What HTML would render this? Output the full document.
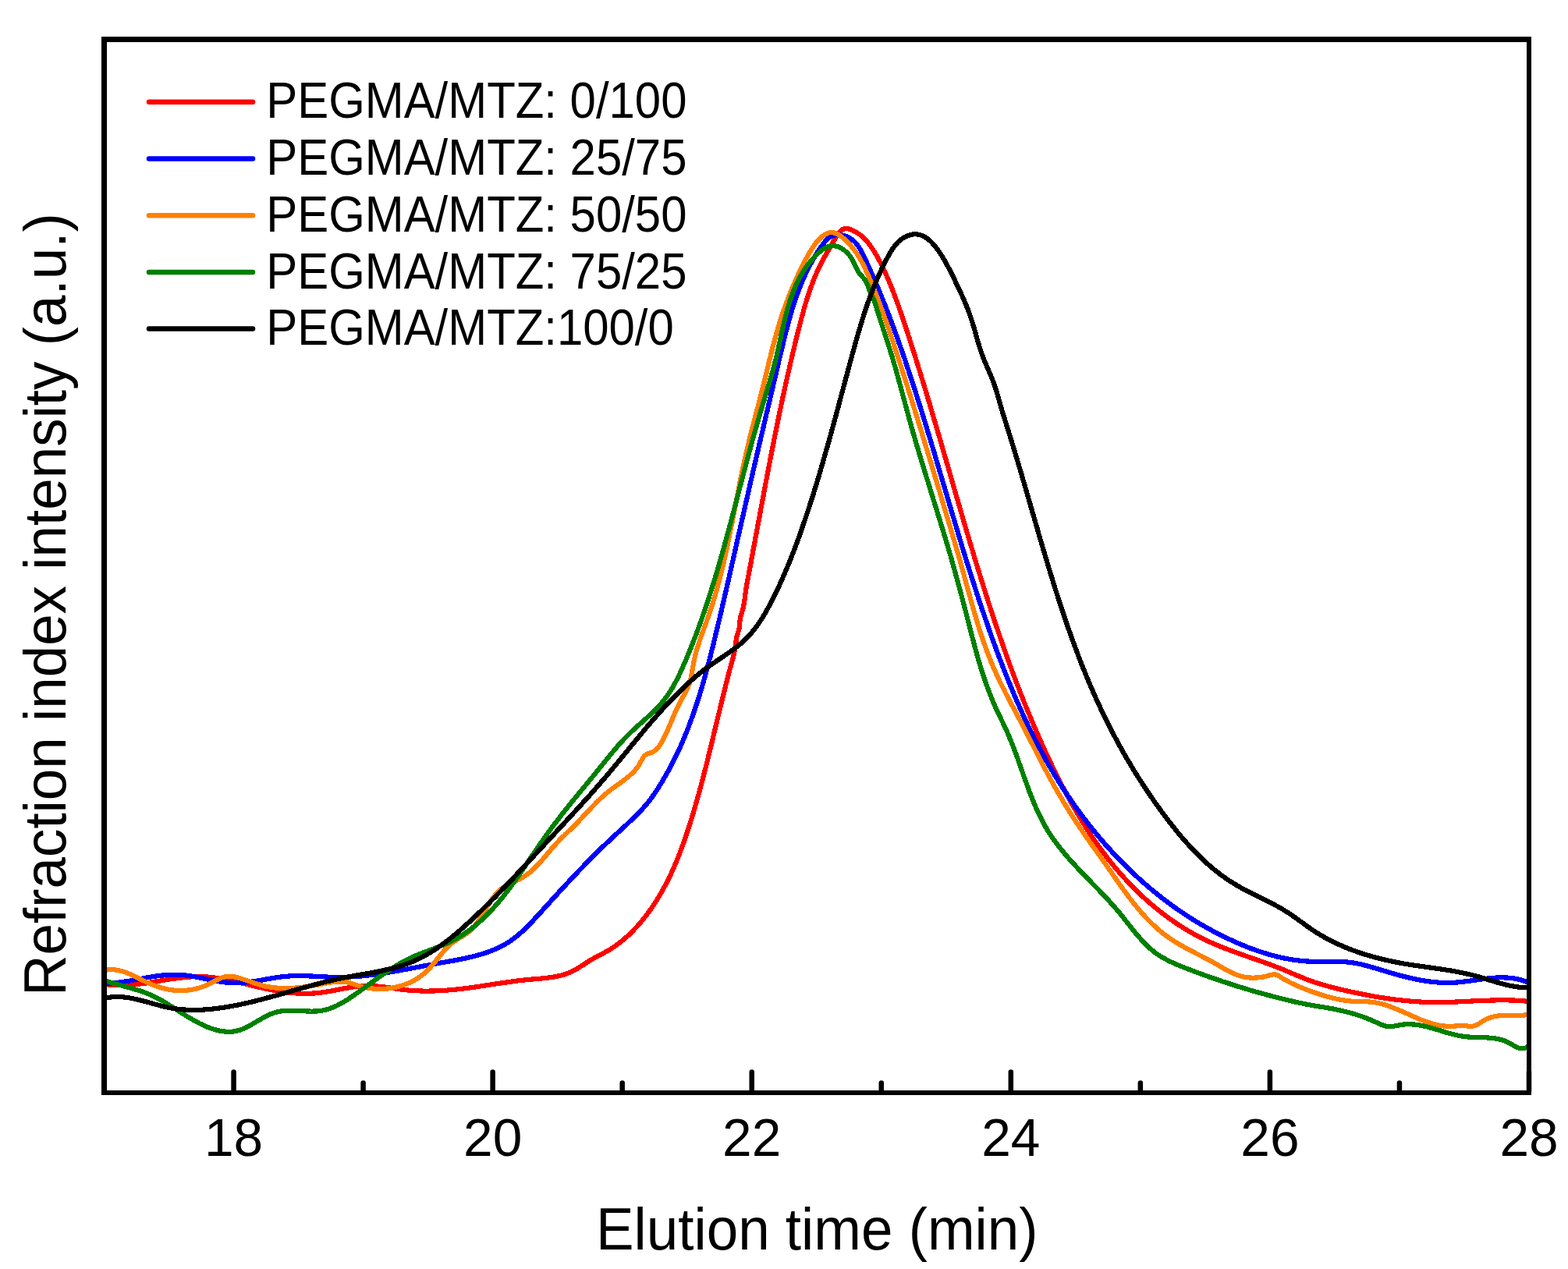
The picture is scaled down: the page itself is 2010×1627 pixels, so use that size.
<!DOCTYPE html>
<html><head><meta charset="utf-8"><title>GPC traces</title>
<style>
html,body{margin:0;padding:0;background:#fff;}
body{width:2010px;height:1627px;overflow:hidden;}
svg{display:block;}
text{font-family:"Liberation Sans", Arial, sans-serif;fill:#000;}
</style></head>
<body>
<svg width="2010" height="1627" viewBox="0 0 2010 1627">
<rect x="0" y="0" width="2010" height="1627" fill="#fff"/>
<g fill="none" stroke-width="6.2" stroke-linejoin="round" stroke-linecap="round" shape-rendering="crispEdges">
<path d="M134.0,1261.8 L138.0,1262.4 L142.0,1262.8 L145.9,1263.1 L149.9,1263.2 L153.9,1263.3 L157.8,1263.2 L161.8,1263.1 L165.8,1262.9 L169.8,1262.5 L173.7,1262.2 L177.7,1261.7 L181.7,1261.2 L185.7,1260.7 L189.7,1260.1 L193.7,1259.4 L197.7,1258.8 L201.6,1258.1 L205.6,1257.5 L209.6,1256.8 L213.6,1256.2 L217.6,1255.5 L221.6,1254.9 L225.5,1254.4 L229.5,1253.9 L233.5,1253.4 L237.5,1253.0 L241.4,1252.6 L245.4,1252.4 L249.4,1252.2 L253.3,1252.1 L257.3,1252.1 L261.2,1252.2 L265.2,1252.5 L269.1,1252.8 L273.1,1253.2 L277.0,1253.8 L281.0,1254.3 L284.9,1255.0 L288.8,1255.7 L292.8,1256.5 L296.7,1257.4 L300.6,1258.2 L304.6,1259.1 L308.5,1260.1 L312.4,1261.0 L316.3,1262.0 L320.2,1262.9 L324.2,1263.9 L328.1,1264.8 L332.0,1265.7 L335.9,1266.6 L339.8,1267.5 L343.8,1268.3 L347.7,1269.1 L351.6,1269.8 L355.5,1270.5 L359.4,1271.1 L363.4,1271.7 L367.3,1272.3 L371.2,1272.7 L375.2,1273.1 L379.1,1273.4 L383.0,1273.6 L387.0,1273.8 L390.9,1273.9 L394.9,1273.8 L398.8,1273.7 L402.8,1273.5 L406.8,1273.2 L410.7,1272.7 L414.7,1272.2 L418.7,1271.6 L422.7,1270.9 L426.6,1270.2 L430.6,1269.4 L434.6,1268.6 L438.6,1267.8 L442.6,1267.1 L446.6,1266.4 L450.6,1265.7 L454.6,1265.1 L458.5,1264.6 L462.5,1264.3 L466.5,1264.0 L470.4,1263.9 L474.4,1264.0 L478.4,1264.1 L482.3,1264.4 L486.3,1264.8 L490.2,1265.2 L494.2,1265.7 L498.1,1266.3 L502.1,1266.8 L506.1,1267.4 L510.0,1268.0 L514.0,1268.5 L518.0,1269.0 L522.0,1269.4 L526.0,1269.8 L530.0,1270.1 L534.0,1270.3 L538.0,1270.4 L542.0,1270.6 L546.1,1270.6 L550.1,1270.6 L554.1,1270.5 L558.2,1270.4 L562.2,1270.3 L566.2,1270.1 L570.2,1269.8 L574.2,1269.5 L578.2,1269.2 L582.2,1268.8 L586.1,1268.4 L590.1,1268.0 L594.0,1267.5 L598.0,1267.0 L601.9,1266.5 L605.8,1265.9 L609.7,1265.4 L613.7,1264.8 L617.6,1264.2 L621.5,1263.6 L625.4,1263.0 L629.3,1262.4 L633.2,1261.8 L637.2,1261.2 L641.1,1260.6 L645.0,1260.1 L649.0,1259.5 L652.9,1258.9 L656.9,1258.4 L660.9,1257.8 L664.9,1257.3 L668.9,1256.9 L672.9,1256.4 L676.9,1256.0 L681.0,1255.6 L685.0,1255.3 L689.1,1254.9 L693.2,1254.6 L697.2,1254.2 L701.3,1253.7 L705.3,1253.2 L709.3,1252.6 L713.2,1251.9 L717.1,1251.1 L720.9,1250.1 L724.7,1249.0 L728.4,1247.6 L732.0,1246.1 L735.5,1244.4 L739.0,1242.5 L742.3,1240.4 L745.7,1238.3 L749.1,1236.1 L752.4,1233.9 L755.8,1231.7 L759.3,1229.7 L762.8,1227.7 L766.3,1225.8 L769.9,1224.0 L773.5,1222.1 L777.0,1220.2 L780.5,1218.2 L783.9,1216.1 L787.2,1213.9 L790.5,1211.6 L793.7,1209.2 L796.8,1206.7 L799.9,1204.1 L802.9,1201.5 L805.9,1198.8 L808.8,1196.0 L811.6,1193.1 L814.3,1190.2 L817.1,1187.3 L819.7,1184.3 L822.3,1181.2 L824.8,1178.2 L827.3,1175.0 L829.7,1171.9 L832.0,1168.7 L834.4,1165.4 L836.6,1162.2 L838.8,1158.9 L841.0,1155.5 L843.1,1152.2 L845.1,1148.8 L847.1,1145.3 L849.1,1141.9 L851.0,1138.4 L852.9,1134.9 L854.7,1131.3 L856.5,1127.8 L858.3,1124.2 L860.0,1120.6 L861.7,1116.9 L863.3,1113.3 L864.9,1109.6 L866.5,1105.9 L868.0,1102.2 L869.5,1098.5 L871.0,1094.8 L872.4,1091.0 L873.8,1087.2 L875.2,1083.5 L876.6,1079.7 L877.9,1075.9 L879.2,1072.1 L880.5,1068.2 L881.8,1064.4 L883.0,1060.6 L884.2,1056.8 L885.4,1052.9 L886.6,1049.1 L887.8,1045.3 L889.0,1041.4 L890.1,1037.6 L891.2,1033.7 L892.3,1029.9 L893.4,1026.0 L894.5,1022.2 L895.6,1018.3 L896.6,1014.5 L897.7,1010.6 L898.7,1006.8 L899.7,1002.9 L900.7,999.1 L901.7,995.2 L902.7,991.3 L903.7,987.5 L904.7,983.6 L905.7,979.8 L906.6,975.9 L907.6,972.0 L908.5,968.2 L909.5,964.3 L910.4,960.4 L911.4,956.5 L912.3,952.7 L913.3,948.8 L914.2,944.9 L915.1,941.0 L916.0,937.2 L917.0,933.3 L917.9,929.4 L918.8,925.5 L919.8,921.6 L920.7,917.8 L921.6,913.9 L922.6,910.0 L923.5,906.1 L924.5,902.2 L925.4,898.3 L926.4,894.5 L927.3,890.6 L928.3,886.7 L929.3,882.8 L930.2,878.9 L931.2,875.0 L932.2,871.1 L933.2,867.2 L934.2,863.3 L935.3,859.4 L936.3,855.5 L937.4,851.6 L938.4,847.7 L939.5,843.8 L940.5,839.9 L941.4,836.0 L942.3,832.1 L942.9,828.2 L943.4,824.3 L943.7,820.3 L944.4,816.4 L945.6,812.6 L946.8,808.7 L947.8,804.8 L948.3,800.8 L948.4,796.7 L948.9,792.8 L949.8,789.0 L951.0,785.2 L952.1,781.4 L953.1,777.5 L953.8,773.6 L954.4,769.7 L954.9,765.7 L955.4,761.7 L955.9,757.7 L956.5,753.8 L957.2,749.8 L957.9,745.9 L958.7,741.9 L959.4,738.0 L960.2,734.1 L960.9,730.1 L961.6,726.2 L962.4,722.3 L963.1,718.3 L963.8,714.4 L964.6,710.5 L965.3,706.5 L966.0,702.6 L966.8,698.7 L967.5,694.7 L968.2,690.8 L969.0,686.9 L969.7,682.9 L970.4,679.0 L971.2,675.1 L971.9,671.1 L972.6,667.2 L973.4,663.3 L974.1,659.3 L974.8,655.4 L975.5,651.5 L976.3,647.6 L977.0,643.6 L977.7,639.7 L978.5,635.8 L979.2,631.8 L979.9,627.9 L980.7,624.0 L981.4,620.0 L982.2,616.1 L982.9,612.2 L983.7,608.2 L984.4,604.3 L985.2,600.4 L985.9,596.5 L986.7,592.5 L987.4,588.6 L988.2,584.7 L989.0,580.8 L989.7,576.8 L990.5,572.9 L991.3,569.0 L992.0,565.1 L992.8,561.1 L993.6,557.2 L994.4,553.3 L995.2,549.4 L996.0,545.5 L996.8,541.5 L997.6,537.6 L998.4,533.7 L999.2,529.8 L1000.0,525.9 L1000.8,522.0 L1001.6,518.0 L1002.5,514.1 L1003.3,510.2 L1004.2,506.3 L1005.0,502.4 L1005.8,498.5 L1006.7,494.6 L1007.6,490.7 L1008.4,486.8 L1009.3,482.9 L1010.2,479.0 L1011.1,475.1 L1012.0,471.2 L1012.9,467.3 L1013.8,463.4 L1014.7,459.5 L1015.6,455.6 L1016.5,451.7 L1017.5,447.8 L1018.4,443.9 L1019.3,440.0 L1020.3,436.1 L1021.3,432.2 L1022.2,428.3 L1023.2,424.4 L1024.2,420.5 L1025.2,416.7 L1026.2,412.8 L1027.2,408.9 L1028.2,405.0 L1029.3,401.2 L1030.3,397.3 L1031.4,393.5 L1032.5,389.6 L1033.7,385.8 L1034.9,382.0 L1036.1,378.2 L1037.3,374.4 L1038.6,370.6 L1040.0,366.9 L1041.3,363.2 L1042.8,359.5 L1044.2,355.8 L1045.8,352.1 L1047.4,348.5 L1049.0,344.9 L1050.7,341.3 L1052.5,337.8 L1054.3,334.3 L1056.2,330.8 L1058.2,327.3 L1060.2,323.8 L1062.2,320.3 L1064.3,316.8 L1066.4,313.2 L1068.4,309.5 L1070.5,305.8 L1072.7,302.1 L1074.9,298.8 L1077.5,296.0 L1080.3,294.0 L1083.6,293.1 L1087.4,293.4 L1091.4,294.6 L1095.3,296.4 L1098.9,298.5 L1102.3,300.8 L1105.4,303.4 L1108.3,306.1 L1111.0,309.0 L1113.5,312.1 L1115.9,315.3 L1118.1,318.6 L1120.3,322.0 L1122.3,325.4 L1124.3,328.8 L1126.3,332.3 L1128.2,335.9 L1130.0,339.4 L1131.7,343.0 L1133.4,346.6 L1135.1,350.3 L1136.7,353.9 L1138.3,357.6 L1139.9,361.3 L1141.4,365.0 L1142.9,368.7 L1144.3,372.4 L1145.8,376.1 L1147.2,379.9 L1148.6,383.6 L1150.0,387.4 L1151.3,391.1 L1152.6,394.9 L1154.0,398.7 L1155.3,402.5 L1156.6,406.3 L1157.8,410.1 L1159.1,413.9 L1160.4,417.7 L1161.6,421.5 L1162.9,425.3 L1164.1,429.1 L1165.4,432.9 L1166.6,436.7 L1167.8,440.5 L1169.0,444.3 L1170.2,448.1 L1171.5,451.9 L1172.7,455.7 L1173.9,459.6 L1175.1,463.4 L1176.2,467.2 L1177.4,471.0 L1178.6,474.8 L1179.8,478.6 L1181.0,482.5 L1182.1,486.3 L1183.3,490.1 L1184.5,493.9 L1185.6,497.8 L1186.8,501.6 L1187.9,505.4 L1189.1,509.3 L1190.2,513.1 L1191.4,516.9 L1192.5,520.8 L1193.6,524.6 L1194.8,528.4 L1195.9,532.3 L1197.0,536.1 L1198.2,539.9 L1199.3,543.8 L1200.4,547.6 L1201.5,551.5 L1202.6,555.3 L1203.8,559.1 L1204.9,563.0 L1206.0,566.8 L1207.1,570.7 L1208.2,574.5 L1209.3,578.3 L1210.4,582.2 L1211.5,586.0 L1212.7,589.9 L1213.8,593.7 L1214.9,597.5 L1216.0,601.4 L1217.1,605.2 L1218.2,609.1 L1219.3,612.9 L1220.4,616.8 L1221.5,620.6 L1222.6,624.4 L1223.7,628.3 L1224.9,632.1 L1226.0,636.0 L1227.1,639.8 L1228.2,643.7 L1229.3,647.5 L1230.4,651.3 L1231.5,655.2 L1232.7,659.0 L1233.8,662.9 L1234.9,666.7 L1236.0,670.5 L1237.2,674.4 L1238.3,678.2 L1239.4,682.0 L1240.6,685.9 L1241.7,689.7 L1242.8,693.5 L1244.0,697.4 L1245.1,701.2 L1246.3,705.0 L1247.4,708.9 L1248.6,712.7 L1249.7,716.5 L1250.9,720.4 L1252.1,724.2 L1253.2,728.0 L1254.4,731.8 L1255.6,735.7 L1256.8,739.5 L1258.0,743.3 L1259.2,747.1 L1260.4,751.0 L1261.6,754.8 L1262.8,758.6 L1264.0,762.4 L1265.2,766.2 L1266.4,770.0 L1267.6,773.8 L1268.9,777.7 L1270.1,781.5 L1271.4,785.3 L1272.6,789.1 L1273.9,792.9 L1275.1,796.7 L1276.4,800.5 L1277.7,804.3 L1279.0,808.1 L1280.3,811.9 L1281.5,815.6 L1282.9,819.4 L1284.2,823.2 L1285.5,827.0 L1286.8,830.8 L1288.1,834.5 L1289.5,838.3 L1290.8,842.1 L1292.2,845.9 L1293.5,849.6 L1294.9,853.4 L1296.3,857.1 L1297.7,860.9 L1299.1,864.6 L1300.5,868.4 L1301.9,872.1 L1303.3,875.9 L1304.7,879.6 L1306.2,883.3 L1307.6,887.1 L1309.1,890.8 L1310.6,894.5 L1312.0,898.2 L1313.5,901.9 L1315.0,905.6 L1316.5,909.3 L1318.0,913.0 L1319.6,916.7 L1321.1,920.4 L1322.7,924.1 L1324.2,927.8 L1325.8,931.4 L1327.4,935.1 L1329.0,938.8 L1330.6,942.4 L1332.2,946.1 L1333.8,949.7 L1335.4,953.4 L1337.1,957.0 L1338.7,960.7 L1340.4,964.3 L1342.1,967.9 L1343.8,971.5 L1345.5,975.1 L1347.2,978.7 L1348.9,982.3 L1350.7,985.9 L1352.4,989.5 L1354.2,993.1 L1356.0,996.7 L1357.8,1000.2 L1359.6,1003.8 L1361.4,1007.3 L1363.3,1010.9 L1365.1,1014.4 L1367.0,1017.9 L1368.9,1021.4 L1370.8,1024.9 L1372.8,1028.4 L1374.7,1031.9 L1376.7,1035.4 L1378.7,1038.8 L1380.7,1042.2 L1382.7,1045.7 L1384.8,1049.1 L1386.9,1052.5 L1389.0,1055.9 L1391.1,1059.3 L1393.2,1062.6 L1395.4,1066.0 L1397.6,1069.3 L1399.8,1072.6 L1402.0,1075.9 L1404.3,1079.2 L1406.6,1082.5 L1408.9,1085.7 L1411.3,1088.9 L1413.7,1092.2 L1416.1,1095.4 L1418.5,1098.5 L1421.0,1101.7 L1423.4,1104.8 L1426.0,1108.0 L1428.5,1111.1 L1431.1,1114.1 L1433.7,1117.2 L1436.4,1120.2 L1439.0,1123.2 L1441.7,1126.2 L1444.5,1129.2 L1447.2,1132.1 L1450.0,1135.0 L1452.8,1137.9 L1455.7,1140.7 L1458.6,1143.6 L1461.5,1146.4 L1464.4,1149.1 L1467.4,1151.9 L1470.4,1154.6 L1473.4,1157.2 L1476.4,1159.8 L1479.5,1162.4 L1482.6,1165.0 L1485.7,1167.5 L1488.9,1170.0 L1492.1,1172.5 L1495.3,1174.9 L1498.5,1177.2 L1501.8,1179.6 L1505.0,1181.8 L1508.3,1184.1 L1511.7,1186.3 L1515.0,1188.4 L1518.4,1190.6 L1521.8,1192.6 L1525.3,1194.6 L1528.7,1196.6 L1532.2,1198.5 L1535.7,1200.4 L1539.3,1202.2 L1542.8,1204.0 L1546.4,1205.7 L1550.0,1207.4 L1553.7,1209.0 L1557.3,1210.6 L1561.0,1212.2 L1564.7,1213.7 L1568.4,1215.2 L1572.1,1216.6 L1575.8,1218.0 L1579.5,1219.4 L1583.3,1220.8 L1587.1,1222.1 L1590.8,1223.5 L1594.6,1224.8 L1598.4,1226.1 L1602.2,1227.5 L1605.9,1228.8 L1609.7,1230.1 L1613.5,1231.4 L1617.3,1232.8 L1621.1,1234.1 L1624.8,1235.5 L1628.6,1236.8 L1632.3,1238.2 L1636.1,1239.7 L1639.8,1241.1 L1643.6,1242.6 L1647.3,1244.1 L1651.0,1245.7 L1654.6,1247.2 L1658.3,1248.8 L1662.0,1250.4 L1665.7,1251.9 L1669.4,1253.4 L1673.1,1254.9 L1676.8,1256.4 L1680.6,1257.7 L1684.3,1259.1 L1688.1,1260.3 L1691.9,1261.5 L1695.8,1262.6 L1699.6,1263.7 L1703.4,1264.8 L1707.3,1265.8 L1711.2,1266.8 L1715.1,1267.7 L1719.0,1268.7 L1722.9,1269.6 L1726.8,1270.5 L1730.7,1271.3 L1734.6,1272.2 L1738.5,1273.0 L1742.4,1273.8 L1746.4,1274.6 L1750.3,1275.4 L1754.2,1276.1 L1758.2,1276.9 L1762.1,1277.6 L1766.1,1278.3 L1770.0,1278.9 L1774.0,1279.5 L1777.9,1280.1 L1781.9,1280.7 L1785.9,1281.2 L1789.8,1281.7 L1793.8,1282.2 L1797.8,1282.6 L1801.7,1283.1 L1805.7,1283.4 L1809.7,1283.8 L1813.7,1284.1 L1817.7,1284.3 L1821.6,1284.6 L1825.6,1284.7 L1829.6,1284.9 L1833.6,1285.0 L1837.6,1285.1 L1841.6,1285.1 L1845.6,1285.1 L1849.6,1285.0 L1853.6,1284.9 L1857.6,1284.8 L1861.5,1284.7 L1865.5,1284.6 L1869.5,1284.4 L1873.5,1284.2 L1877.5,1284.0 L1881.5,1283.8 L1885.5,1283.6 L1889.5,1283.4 L1893.6,1283.2 L1897.6,1283.0 L1901.6,1282.9 L1905.6,1282.7 L1909.6,1282.6 L1913.6,1282.5 L1917.6,1282.4 L1921.7,1282.3 L1925.7,1282.3 L1929.7,1282.3 L1933.7,1282.4 L1937.8,1282.5 L1941.8,1282.6 L1945.8,1282.8 L1949.9,1283.1 L1953.9,1283.4 L1958.0,1283.8 L1958.4,1283.8" stroke="#ff0000" />
<path d="M134.0,1260.9 L138.0,1260.8 L141.9,1260.6 L145.9,1260.3 L149.9,1259.9 L153.9,1259.4 L157.8,1258.8 L161.8,1258.2 L165.8,1257.6 L169.7,1256.9 L173.7,1256.1 L177.7,1255.4 L181.6,1254.7 L185.6,1253.9 L189.6,1253.2 L193.5,1252.5 L197.5,1251.9 L201.5,1251.3 L205.4,1250.8 L209.4,1250.4 L213.3,1250.0 L217.3,1249.8 L221.3,1249.6 L225.2,1249.6 L229.2,1249.7 L233.1,1250.0 L237.1,1250.4 L241.1,1250.9 L245.0,1251.5 L249.0,1252.2 L252.9,1252.9 L256.9,1253.7 L260.8,1254.5 L264.8,1255.3 L268.7,1256.1 L272.7,1256.9 L276.6,1257.6 L280.6,1258.3 L284.5,1258.9 L288.4,1259.4 L292.4,1259.8 L296.3,1260.1 L300.3,1260.3 L304.2,1260.2 L308.2,1260.1 L312.1,1259.8 L316.0,1259.4 L320.0,1259.0 L323.9,1258.4 L327.9,1257.8 L331.8,1257.1 L335.8,1256.5 L339.7,1255.8 L343.7,1255.1 L347.6,1254.4 L351.6,1253.7 L355.6,1253.1 L359.6,1252.5 L363.5,1252.1 L367.5,1251.7 L371.5,1251.4 L375.5,1251.2 L379.6,1251.1 L383.6,1251.1 L387.6,1251.1 L391.6,1251.2 L395.6,1251.4 L399.7,1251.5 L403.7,1251.8 L407.7,1252.0 L411.8,1252.2 L415.8,1252.4 L419.8,1252.6 L423.8,1252.7 L427.8,1252.8 L431.8,1252.9 L435.8,1252.9 L439.8,1252.8 L443.8,1252.7 L447.8,1252.5 L451.7,1252.3 L455.7,1252.0 L459.6,1251.7 L463.6,1251.4 L467.6,1251.0 L471.5,1250.5 L475.5,1250.1 L479.4,1249.6 L483.3,1249.0 L487.3,1248.5 L491.2,1247.9 L495.2,1247.2 L499.1,1246.6 L503.0,1245.9 L507.0,1245.2 L510.9,1244.5 L514.9,1243.8 L518.8,1243.1 L522.8,1242.4 L526.7,1241.6 L530.7,1240.9 L534.6,1240.1 L538.6,1239.4 L542.5,1238.6 L546.5,1237.9 L550.5,1237.1 L554.5,1236.4 L558.4,1235.6 L562.4,1234.9 L566.4,1234.2 L570.4,1233.5 L574.4,1232.8 L578.4,1232.1 L582.4,1231.4 L586.4,1230.6 L590.3,1229.8 L594.3,1229.0 L598.2,1228.2 L602.1,1227.3 L606.0,1226.4 L609.8,1225.4 L613.6,1224.4 L617.4,1223.3 L621.2,1222.1 L624.9,1220.8 L628.6,1219.5 L632.2,1218.1 L635.8,1216.5 L639.3,1214.9 L642.8,1213.2 L646.2,1211.4 L649.5,1209.4 L652.8,1207.4 L656.1,1205.2 L659.2,1202.8 L662.3,1200.4 L665.4,1197.8 L668.4,1195.2 L671.3,1192.5 L674.2,1189.7 L677.1,1186.8 L680.0,1183.9 L682.8,1180.9 L685.5,1177.9 L688.3,1174.9 L691.1,1171.9 L693.8,1168.9 L696.5,1165.9 L699.3,1162.9 L702.0,1159.9 L704.7,1156.9 L707.4,1153.9 L710.2,1150.9 L712.9,1147.9 L715.6,1144.9 L718.3,1142.0 L721.0,1139.0 L723.7,1136.1 L726.4,1133.2 L729.2,1130.2 L731.9,1127.3 L734.6,1124.4 L737.4,1121.5 L740.1,1118.6 L742.8,1115.7 L745.6,1112.9 L748.4,1110.0 L751.1,1107.2 L753.9,1104.3 L756.7,1101.5 L759.5,1098.7 L762.3,1095.8 L765.1,1093.0 L768.0,1090.3 L770.8,1087.5 L773.7,1084.7 L776.6,1081.9 L779.5,1079.2 L782.4,1076.4 L785.3,1073.7 L788.3,1071.0 L791.2,1068.3 L794.2,1065.6 L797.2,1062.8 L800.1,1060.1 L803.1,1057.4 L806.0,1054.6 L808.9,1051.8 L811.8,1049.1 L814.6,1046.3 L817.4,1043.4 L820.2,1040.6 L823.0,1037.7 L825.7,1034.7 L828.3,1031.7 L830.9,1028.6 L833.3,1025.4 L835.7,1022.1 L838.0,1018.9 L840.3,1015.5 L842.5,1012.2 L844.6,1008.8 L846.8,1005.4 L848.9,1002.0 L850.9,998.5 L852.9,995.1 L854.9,991.6 L856.8,988.1 L858.7,984.6 L860.6,981.1 L862.4,977.6 L864.2,974.0 L866.0,970.4 L867.7,966.9 L869.4,963.3 L871.1,959.6 L872.7,956.0 L874.3,952.4 L875.9,948.7 L877.4,945.0 L878.9,941.4 L880.4,937.7 L881.9,934.0 L883.3,930.2 L884.7,926.5 L886.1,922.8 L887.4,919.0 L888.8,915.3 L890.1,911.5 L891.3,907.7 L892.6,903.9 L893.8,900.1 L895.1,896.3 L896.3,892.5 L897.4,888.7 L898.6,884.8 L899.8,881.0 L900.9,877.2 L902.0,873.3 L903.1,869.5 L904.2,865.6 L905.2,861.7 L906.3,857.9 L907.3,854.0 L908.3,850.1 L909.4,846.2 L910.4,842.3 L911.3,838.4 L912.3,834.5 L913.3,830.6 L914.3,826.7 L915.2,822.8 L916.2,818.9 L917.1,815.0 L918.0,811.1 L919.0,807.2 L919.9,803.3 L920.8,799.4 L921.8,795.5 L922.7,791.6 L923.6,787.7 L924.5,783.8 L925.4,779.9 L926.3,776.0 L927.2,772.1 L928.1,768.2 L929.0,764.3 L929.9,760.4 L930.8,756.5 L931.7,752.6 L932.6,748.7 L933.5,744.8 L934.4,740.9 L935.3,737.0 L936.2,733.1 L937.0,729.2 L937.9,725.3 L938.8,721.4 L939.7,717.5 L940.6,713.6 L941.5,709.7 L942.3,705.8 L943.2,701.9 L944.1,698.0 L945.0,694.1 L945.8,690.2 L946.7,686.3 L947.6,682.5 L948.5,678.6 L949.4,674.7 L950.2,670.8 L951.1,666.9 L952.0,663.0 L952.9,659.1 L953.8,655.2 L954.6,651.3 L955.5,647.4 L956.4,643.5 L957.3,639.7 L958.2,635.8 L959.1,631.9 L960.0,628.0 L960.8,624.1 L961.7,620.2 L962.6,616.3 L963.5,612.4 L964.4,608.5 L965.3,604.6 L966.2,600.8 L967.1,596.9 L968.0,593.0 L968.9,589.1 L969.8,585.2 L970.7,581.3 L971.6,577.4 L972.5,573.5 L973.4,569.6 L974.3,565.7 L975.2,561.8 L976.2,557.9 L977.1,554.1 L978.0,550.2 L978.9,546.3 L979.8,542.4 L980.7,538.5 L981.6,534.6 L982.5,530.7 L983.5,526.8 L984.4,522.9 L985.3,519.0 L986.2,515.1 L987.1,511.2 L988.0,507.3 L989.0,503.4 L989.9,499.5 L990.8,495.6 L991.7,491.7 L992.6,487.8 L993.5,483.9 L994.5,480.0 L995.4,476.1 L996.3,472.1 L997.2,468.2 L998.1,464.3 L999.1,460.4 L1000.0,456.5 L1000.9,452.6 L1001.8,448.7 L1002.8,444.8 L1003.7,440.9 L1004.7,437.0 L1005.6,433.1 L1006.6,429.2 L1007.6,425.3 L1008.6,421.4 L1009.6,417.5 L1010.6,413.6 L1011.7,409.8 L1012.8,405.9 L1013.9,402.1 L1015.0,398.3 L1016.2,394.4 L1017.4,390.6 L1018.6,386.9 L1019.9,383.1 L1021.2,379.3 L1022.6,375.6 L1024.0,371.9 L1025.4,368.2 L1026.9,364.5 L1028.4,360.8 L1030.0,357.2 L1031.6,353.5 L1033.3,349.9 L1035.0,346.4 L1036.8,342.8 L1038.6,339.3 L1040.5,335.8 L1042.5,332.3 L1044.5,328.9 L1046.6,325.4 L1048.8,322.1 L1051.0,318.7 L1053.3,315.4 L1055.7,312.1 L1058.2,309.0 L1060.9,306.2 L1064.0,303.9 L1067.4,302.2 L1071.1,301.2 L1075.3,301.0 L1079.7,301.6 L1084.1,302.8 L1088.0,304.4 L1091.5,306.6 L1094.6,309.0 L1097.3,311.9 L1099.7,314.9 L1101.9,318.2 L1103.8,321.7 L1105.7,325.3 L1107.4,328.9 L1109.1,332.5 L1110.9,336.2 L1112.6,339.8 L1114.2,343.5 L1115.9,347.2 L1117.5,350.8 L1119.1,354.5 L1120.8,358.2 L1122.3,361.9 L1123.9,365.6 L1125.5,369.3 L1127.0,373.0 L1128.6,376.7 L1130.1,380.4 L1131.6,384.1 L1133.1,387.8 L1134.6,391.5 L1136.0,395.3 L1137.5,399.0 L1138.9,402.7 L1140.4,406.5 L1141.8,410.2 L1143.2,413.9 L1144.6,417.7 L1146.0,421.4 L1147.3,425.2 L1148.7,429.0 L1150.0,432.7 L1151.4,436.5 L1152.7,440.3 L1154.0,444.0 L1155.4,447.8 L1156.7,451.6 L1158.0,455.4 L1159.3,459.1 L1160.6,462.9 L1161.8,466.7 L1163.1,470.5 L1164.4,474.3 L1165.6,478.1 L1166.9,481.9 L1168.1,485.7 L1169.4,489.5 L1170.6,493.3 L1171.8,497.1 L1173.1,500.9 L1174.3,504.7 L1175.5,508.5 L1176.7,512.3 L1177.9,516.1 L1179.1,519.9 L1180.3,523.8 L1181.5,527.6 L1182.7,531.4 L1183.8,535.2 L1185.0,539.0 L1186.2,542.9 L1187.4,546.7 L1188.5,550.5 L1189.7,554.3 L1190.8,558.2 L1192.0,562.0 L1193.2,565.8 L1194.3,569.7 L1195.5,573.5 L1196.6,577.3 L1197.8,581.2 L1198.9,585.0 L1200.0,588.8 L1201.2,592.7 L1202.3,596.5 L1203.5,600.3 L1204.6,604.2 L1205.7,608.0 L1206.9,611.8 L1208.0,615.7 L1209.1,619.5 L1210.3,623.4 L1211.4,627.2 L1212.5,631.0 L1213.7,634.9 L1214.8,638.7 L1215.9,642.5 L1217.1,646.4 L1218.2,650.2 L1219.3,654.1 L1220.5,657.9 L1221.6,661.7 L1222.8,665.6 L1223.9,669.4 L1225.1,673.2 L1226.2,677.1 L1227.4,680.9 L1228.5,684.7 L1229.7,688.6 L1230.8,692.4 L1232.0,696.2 L1233.1,700.0 L1234.3,703.9 L1235.5,707.7 L1236.7,711.5 L1237.8,715.3 L1239.0,719.2 L1240.2,723.0 L1241.4,726.8 L1242.6,730.6 L1243.8,734.4 L1245.0,738.3 L1246.2,742.1 L1247.4,745.9 L1248.7,749.7 L1249.9,753.5 L1251.1,757.3 L1252.3,761.1 L1253.6,764.9 L1254.8,768.7 L1256.1,772.5 L1257.4,776.3 L1258.6,780.1 L1259.9,783.9 L1261.2,787.7 L1262.5,791.4 L1263.8,795.2 L1265.1,799.0 L1266.4,802.8 L1267.7,806.5 L1269.1,810.3 L1270.4,814.1 L1271.7,817.9 L1273.1,821.6 L1274.5,825.4 L1275.8,829.1 L1277.2,832.9 L1278.6,836.6 L1280.0,840.4 L1281.4,844.1 L1282.8,847.9 L1284.3,851.6 L1285.7,855.3 L1287.2,859.1 L1288.6,862.8 L1290.1,866.5 L1291.6,870.2 L1293.1,873.9 L1294.6,877.6 L1296.1,881.3 L1297.7,885.0 L1299.2,888.7 L1300.8,892.4 L1302.3,896.0 L1303.9,899.7 L1305.5,903.4 L1307.2,907.0 L1308.8,910.7 L1310.4,914.3 L1312.1,917.9 L1313.8,921.6 L1315.5,925.2 L1317.2,928.8 L1318.9,932.4 L1320.7,936.0 L1322.4,939.6 L1324.2,943.1 L1326.0,946.7 L1327.8,950.3 L1329.7,953.8 L1331.5,957.4 L1333.4,960.9 L1335.3,964.4 L1337.2,967.9 L1339.1,971.4 L1341.1,974.9 L1343.0,978.4 L1345.0,981.9 L1347.0,985.3 L1349.1,988.8 L1351.1,992.2 L1353.2,995.6 L1355.3,999.0 L1357.4,1002.4 L1359.5,1005.8 L1361.7,1009.2 L1363.9,1012.6 L1366.1,1015.9 L1368.3,1019.3 L1370.5,1022.6 L1372.8,1025.9 L1375.1,1029.2 L1377.4,1032.5 L1379.7,1035.7 L1382.1,1039.0 L1384.4,1042.2 L1386.8,1045.5 L1389.2,1048.7 L1391.7,1051.9 L1394.1,1055.0 L1396.6,1058.2 L1399.1,1061.3 L1401.6,1064.5 L1404.1,1067.6 L1406.7,1070.6 L1409.3,1073.7 L1411.9,1076.8 L1414.5,1079.8 L1417.1,1082.8 L1419.8,1085.8 L1422.5,1088.8 L1425.2,1091.8 L1427.9,1094.7 L1430.6,1097.6 L1433.4,1100.5 L1436.2,1103.4 L1439.0,1106.2 L1441.8,1109.1 L1444.6,1111.9 L1447.5,1114.7 L1450.4,1117.4 L1453.3,1120.2 L1456.2,1122.9 L1459.1,1125.6 L1462.1,1128.3 L1465.1,1130.9 L1468.1,1133.6 L1471.1,1136.2 L1474.1,1138.8 L1477.2,1141.3 L1480.3,1143.9 L1483.4,1146.4 L1486.5,1148.8 L1489.6,1151.3 L1492.8,1153.7 L1496.0,1156.1 L1499.2,1158.5 L1502.4,1160.9 L1505.6,1163.2 L1508.9,1165.5 L1512.1,1167.7 L1515.4,1170.0 L1518.7,1172.2 L1522.1,1174.4 L1525.4,1176.5 L1528.8,1178.7 L1532.2,1180.8 L1535.6,1182.8 L1539.0,1184.9 L1542.5,1186.9 L1545.9,1188.9 L1549.4,1190.8 L1552.9,1192.7 L1556.4,1194.6 L1560.0,1196.5 L1563.5,1198.3 L1567.1,1200.1 L1570.7,1201.8 L1574.3,1203.5 L1578.0,1205.2 L1581.6,1206.9 L1585.3,1208.5 L1589.0,1210.1 L1592.7,1211.7 L1596.4,1213.2 L1600.1,1214.7 L1603.9,1216.1 L1607.7,1217.5 L1611.5,1218.8 L1615.3,1220.1 L1619.1,1221.4 L1622.9,1222.5 L1626.8,1223.7 L1630.6,1224.8 L1634.5,1225.8 L1638.4,1226.8 L1642.3,1227.7 L1646.2,1228.5 L1650.2,1229.3 L1654.1,1230.0 L1658.0,1230.6 L1662.0,1231.2 L1666.0,1231.6 L1669.9,1232.0 L1673.9,1232.4 L1677.9,1232.6 L1681.9,1232.8 L1685.9,1232.9 L1689.9,1232.9 L1693.9,1232.9 L1698.0,1232.9 L1702.0,1232.8 L1706.0,1232.8 L1710.0,1232.8 L1714.0,1232.8 L1718.0,1232.9 L1721.9,1233.1 L1725.9,1233.4 L1729.8,1233.8 L1733.7,1234.3 L1737.6,1234.9 L1741.5,1235.7 L1745.4,1236.5 L1749.2,1237.5 L1753.1,1238.5 L1756.9,1239.6 L1760.8,1240.7 L1764.6,1241.8 L1768.5,1243.0 L1772.3,1244.2 L1776.2,1245.3 L1780.0,1246.5 L1783.9,1247.6 L1787.8,1248.7 L1791.7,1249.8 L1795.6,1250.9 L1799.5,1251.9 L1803.4,1252.9 L1807.3,1253.8 L1811.3,1254.7 L1815.2,1255.5 L1819.1,1256.3 L1823.1,1257.0 L1827.0,1257.7 L1831.0,1258.3 L1834.9,1258.8 L1838.9,1259.2 L1842.8,1259.5 L1846.8,1259.8 L1850.7,1259.9 L1854.7,1260.0 L1858.7,1260.0 L1862.6,1259.8 L1866.6,1259.6 L1870.6,1259.2 L1874.6,1258.8 L1878.5,1258.3 L1882.5,1257.8 L1886.5,1257.3 L1890.5,1256.7 L1894.4,1256.1 L1898.4,1255.6 L1902.4,1255.0 L1906.4,1254.6 L1910.4,1254.1 L1914.3,1253.8 L1918.3,1253.5 L1922.3,1253.4 L1926.3,1253.3 L1930.3,1253.5 L1934.2,1253.7 L1938.2,1254.1 L1942.2,1254.7 L1946.2,1255.5 L1950.1,1256.5 L1954.1,1257.8 L1958.1,1259.2 L1958.5,1259.4" stroke="#0000ff" />
<path d="M134.0,1244.1 L138.0,1243.4 L142.0,1243.1 L146.0,1243.3 L149.8,1243.7 L153.7,1244.5 L157.5,1245.5 L161.3,1246.8 L165.1,1248.3 L168.8,1249.9 L172.5,1251.6 L176.2,1253.4 L179.9,1255.3 L183.6,1257.1 L187.3,1258.9 L190.9,1260.6 L194.6,1262.1 L198.3,1263.6 L202.0,1264.9 L205.7,1266.1 L209.5,1267.1 L213.2,1268.0 L217.0,1268.8 L220.8,1269.4 L224.7,1269.8 L228.5,1270.0 L232.5,1270.0 L236.4,1269.9 L240.4,1269.6 L244.5,1269.1 L248.5,1268.3 L252.6,1267.4 L256.6,1266.2 L260.5,1264.9 L264.4,1263.3 L268.1,1261.6 L271.8,1259.7 L275.4,1257.8 L278.9,1256.0 L282.5,1254.3 L286.1,1253.0 L289.7,1252.1 L293.5,1251.7 L297.4,1251.9 L301.4,1252.6 L305.4,1253.6 L309.3,1254.8 L313.2,1256.0 L317.0,1257.3 L320.8,1258.6 L324.6,1259.9 L328.4,1261.2 L332.1,1262.3 L335.9,1263.4 L339.7,1264.4 L343.6,1265.1 L347.4,1265.8 L351.4,1266.3 L355.3,1266.7 L359.2,1266.9 L363.2,1267.1 L367.2,1267.1 L371.2,1267.0 L375.2,1266.8 L379.3,1266.5 L383.3,1266.2 L387.3,1265.7 L391.4,1265.2 L395.4,1264.7 L399.5,1264.0 L403.5,1263.3 L407.6,1262.6 L411.6,1261.8 L415.6,1261.0 L419.6,1260.3 L423.6,1259.6 L427.5,1259.0 L431.5,1258.7 L435.4,1258.5 L439.2,1258.6 L443.0,1259.0 L446.8,1259.7 L450.5,1260.8 L454.2,1262.0 L457.9,1263.3 L461.7,1264.5 L465.6,1265.5 L469.5,1266.3 L473.4,1267.0 L477.4,1267.5 L481.4,1267.8 L485.5,1268.0 L489.5,1268.0 L493.6,1267.8 L497.6,1267.4 L501.6,1266.8 L505.6,1266.1 L509.5,1265.2 L513.4,1264.2 L517.3,1263.0 L521.1,1261.6 L524.8,1260.0 L528.4,1258.3 L531.9,1256.3 L535.3,1254.3 L538.6,1252.0 L541.8,1249.6 L544.8,1247.1 L547.8,1244.3 L550.5,1241.4 L553.2,1238.4 L555.8,1235.4 L558.4,1232.2 L560.9,1229.1 L563.4,1225.9 L566.0,1222.8 L568.6,1219.7 L571.2,1216.8 L574.0,1213.9 L576.9,1211.2 L580.0,1208.7 L583.2,1206.4 L586.5,1204.2 L589.9,1202.1 L593.3,1200.0 L596.7,1197.9 L599.9,1195.5 L602.9,1193.0 L605.7,1190.2 L608.3,1187.3 L610.8,1184.1 L613.1,1180.8 L615.3,1177.5 L617.5,1174.0 L619.6,1170.5 L621.7,1167.0 L623.8,1163.4 L625.9,1159.9 L628.1,1156.5 L630.4,1153.2 L632.7,1150.0 L635.2,1146.9 L637.8,1144.0 L640.6,1141.4 L643.6,1138.9 L646.8,1136.8 L650.2,1134.8 L653.8,1133.0 L657.4,1131.3 L661.0,1129.6 L664.6,1127.8 L668.2,1126.0 L671.6,1124.0 L674.9,1121.8 L678.0,1119.4 L681.1,1116.9 L684.0,1114.3 L686.9,1111.5 L689.6,1108.6 L692.3,1105.7 L695.0,1102.6 L697.6,1099.6 L700.2,1096.5 L702.8,1093.3 L705.4,1090.2 L708.1,1087.1 L710.7,1084.1 L713.4,1081.1 L716.2,1078.2 L719.0,1075.3 L721.9,1072.5 L724.7,1069.7 L727.6,1066.9 L730.5,1064.2 L733.3,1061.4 L736.2,1058.6 L739.0,1055.8 L741.8,1052.9 L744.5,1050.0 L747.2,1047.1 L750.0,1044.2 L752.7,1041.2 L755.4,1038.3 L758.2,1035.4 L760.9,1032.5 L763.7,1029.7 L766.5,1026.9 L769.4,1024.1 L772.3,1021.4 L775.3,1018.7 L778.4,1016.2 L781.5,1013.7 L784.7,1011.2 L788.0,1008.9 L791.2,1006.5 L794.5,1004.2 L797.7,1001.8 L800.9,999.4 L804.1,996.9 L807.1,994.4 L810.0,991.7 L812.8,988.9 L815.4,985.9 L817.8,982.7 L820.0,979.3 L821.9,975.7 L823.9,972.1 L826.2,969.0 L829.4,966.8 L833.4,965.4 L837.3,963.9 L840.6,961.7 L843.3,958.9 L845.7,955.7 L847.8,952.2 L849.7,948.7 L851.6,945.2 L853.3,941.6 L855.0,937.9 L856.6,934.3 L858.2,930.6 L859.8,926.9 L861.3,923.2 L862.8,919.5 L864.4,915.8 L866.0,912.2 L867.7,908.5 L869.4,904.9 L871.2,901.4 L873.1,897.8 L875.0,894.4 L877.0,890.9 L878.9,887.3 L880.6,883.8 L882.2,880.2 L883.6,876.5 L884.7,872.7 L885.7,868.8 L886.5,864.9 L887.2,861.0 L887.9,857.0 L888.6,853.0 L889.3,849.0 L890.1,845.1 L891.0,841.2 L892.0,837.3 L893.1,833.5 L894.3,829.6 L895.5,825.8 L896.7,822.0 L898.0,818.2 L899.3,814.4 L900.7,810.7 L902.0,806.9 L903.4,803.1 L904.8,799.4 L906.2,795.6 L907.5,791.8 L908.8,788.0 L910.1,784.3 L911.4,780.5 L912.6,776.7 L913.8,772.8 L915.0,769.0 L916.1,765.2 L917.3,761.4 L918.4,757.5 L919.4,753.7 L920.5,749.8 L921.5,746.0 L922.5,742.1 L923.5,738.2 L924.5,734.3 L925.5,730.5 L926.4,726.6 L927.3,722.7 L928.2,718.8 L929.1,714.9 L930.0,711.0 L930.8,707.1 L931.7,703.2 L932.5,699.2 L933.3,695.3 L934.1,691.4 L935.0,687.5 L935.7,683.5 L936.5,679.6 L937.3,675.7 L938.1,671.8 L938.9,667.8 L939.6,663.9 L940.4,660.0 L941.2,656.0 L941.9,652.1 L942.7,648.2 L943.4,644.2 L944.2,640.3 L945.0,636.4 L945.7,632.4 L946.5,628.5 L947.3,624.6 L948.1,620.6 L948.8,616.7 L949.6,612.8 L950.4,608.9 L951.3,605.0 L952.1,601.0 L952.9,597.1 L953.8,593.2 L954.6,589.3 L955.5,585.4 L956.4,581.5 L957.3,577.7 L958.2,573.8 L959.1,569.9 L960.1,566.0 L961.0,562.1 L962.0,558.3 L962.9,554.4 L963.9,550.6 L964.9,546.7 L965.9,542.8 L966.9,539.0 L967.9,535.1 L968.9,531.2 L969.9,527.4 L970.9,523.5 L972.0,519.7 L973.0,515.8 L974.0,511.9 L975.0,508.0 L976.0,504.2 L976.9,500.3 L977.9,496.4 L978.9,492.5 L979.8,488.6 L980.8,484.7 L981.8,480.8 L982.7,476.9 L983.6,473.0 L984.6,469.1 L985.5,465.2 L986.5,461.3 L987.5,457.4 L988.4,453.5 L989.4,449.6 L990.4,445.7 L991.4,441.8 L992.5,437.9 L993.5,434.1 L994.6,430.2 L995.6,426.4 L996.8,422.5 L997.9,418.7 L999.0,414.9 L1000.2,411.1 L1001.4,407.3 L1002.7,403.6 L1004.0,399.8 L1005.3,396.0 L1006.6,392.3 L1007.9,388.6 L1009.3,384.9 L1010.8,381.2 L1012.2,377.5 L1013.7,373.8 L1015.2,370.1 L1016.8,366.4 L1018.4,362.8 L1020.0,359.1 L1021.6,355.5 L1023.3,351.8 L1025.0,348.2 L1026.8,344.6 L1028.6,340.9 L1030.4,337.3 L1032.3,333.7 L1034.2,330.1 L1036.2,326.5 L1038.2,323.0 L1040.3,319.5 L1042.5,316.1 L1044.8,312.8 L1047.3,309.7 L1050.0,306.8 L1052.8,304.1 L1055.9,301.7 L1059.3,299.7 L1062.7,298.4 L1066.3,298.1 L1070.0,298.7 L1073.6,300.2 L1077.2,302.3 L1080.6,305.0 L1084.0,307.9 L1087.1,311.1 L1090.0,314.3 L1092.6,317.4 L1095.0,320.5 L1097.3,323.6 L1099.4,326.7 L1101.4,330.0 L1103.3,333.3 L1105.2,336.7 L1107.0,340.2 L1108.7,343.7 L1110.4,347.4 L1112.1,351.0 L1113.7,354.7 L1115.3,358.4 L1116.9,362.2 L1118.4,365.9 L1119.9,369.6 L1121.4,373.4 L1122.9,377.1 L1124.4,380.8 L1125.8,384.6 L1127.2,388.3 L1128.6,392.1 L1130.0,395.9 L1131.4,399.6 L1132.8,403.4 L1134.1,407.1 L1135.4,410.9 L1136.8,414.7 L1138.1,418.5 L1139.4,422.2 L1140.6,426.0 L1141.9,429.8 L1143.2,433.6 L1144.5,437.4 L1145.7,441.2 L1146.9,445.0 L1148.2,448.8 L1149.4,452.6 L1150.6,456.4 L1151.9,460.2 L1153.1,464.0 L1154.3,467.8 L1155.5,471.6 L1156.7,475.4 L1157.9,479.2 L1159.2,483.0 L1160.4,486.8 L1161.6,490.6 L1162.8,494.4 L1164.0,498.3 L1165.2,502.1 L1166.4,505.9 L1167.6,509.7 L1168.8,513.5 L1169.9,517.3 L1171.1,521.2 L1172.3,525.0 L1173.5,528.8 L1174.7,532.6 L1175.9,536.5 L1177.1,540.3 L1178.2,544.1 L1179.4,547.9 L1180.6,551.8 L1181.8,555.6 L1182.9,559.4 L1184.1,563.2 L1185.3,567.1 L1186.4,570.9 L1187.6,574.7 L1188.8,578.6 L1189.9,582.4 L1191.1,586.2 L1192.3,590.1 L1193.4,593.9 L1194.6,597.7 L1195.7,601.6 L1196.9,605.4 L1198.0,609.2 L1199.2,613.1 L1200.4,616.9 L1201.5,620.7 L1202.7,624.6 L1203.8,628.4 L1205.0,632.2 L1206.1,636.1 L1207.2,639.9 L1208.4,643.7 L1209.5,647.6 L1210.7,651.4 L1211.8,655.2 L1213.0,659.1 L1214.1,662.9 L1215.3,666.7 L1216.4,670.5 L1217.5,674.4 L1218.7,678.2 L1219.8,682.0 L1220.9,685.9 L1222.1,689.7 L1223.2,693.5 L1224.3,697.4 L1225.4,701.2 L1226.6,705.0 L1227.7,708.9 L1228.8,712.7 L1229.9,716.6 L1231.0,720.4 L1232.0,724.2 L1233.1,728.1 L1234.2,732.0 L1235.3,735.8 L1236.3,739.7 L1237.4,743.5 L1238.4,747.4 L1239.5,751.3 L1240.6,755.1 L1241.6,759.0 L1242.7,762.9 L1243.8,766.7 L1244.8,770.6 L1245.9,774.4 L1247.0,778.3 L1248.1,782.1 L1249.2,786.0 L1250.4,789.8 L1251.5,793.7 L1252.7,797.5 L1253.8,801.3 L1255.0,805.1 L1256.2,808.9 L1257.4,812.7 L1258.7,816.5 L1260.0,820.3 L1261.3,824.1 L1262.6,827.9 L1263.9,831.6 L1265.3,835.4 L1266.7,839.1 L1268.2,842.8 L1269.6,846.5 L1271.1,850.2 L1272.7,853.9 L1274.2,857.6 L1275.9,861.2 L1277.5,864.8 L1279.2,868.5 L1280.9,872.1 L1282.6,875.7 L1284.4,879.3 L1286.2,882.8 L1288.0,886.4 L1289.8,890.0 L1291.7,893.5 L1293.5,897.1 L1295.4,900.6 L1297.3,904.2 L1299.2,907.7 L1301.0,911.3 L1302.9,914.8 L1304.8,918.3 L1306.7,921.9 L1308.6,925.4 L1310.4,929.0 L1312.3,932.5 L1314.1,936.1 L1315.9,939.7 L1317.7,943.2 L1319.6,946.8 L1321.4,950.4 L1323.2,953.9 L1325.0,957.5 L1326.8,961.1 L1328.6,964.6 L1330.4,968.2 L1332.2,971.7 L1334.0,975.3 L1335.9,978.8 L1337.7,982.4 L1339.6,985.9 L1341.5,989.5 L1343.3,993.0 L1345.2,996.5 L1347.2,1000.0 L1349.1,1003.5 L1351.0,1007.0 L1353.0,1010.5 L1355.0,1013.9 L1357.0,1017.4 L1359.0,1020.9 L1361.0,1024.3 L1363.0,1027.7 L1365.1,1031.2 L1367.2,1034.6 L1369.3,1038.0 L1371.4,1041.4 L1373.5,1044.7 L1375.7,1048.1 L1377.9,1051.5 L1380.1,1054.8 L1382.3,1058.1 L1384.5,1061.4 L1386.8,1064.7 L1389.0,1068.0 L1391.3,1071.3 L1393.6,1074.6 L1395.9,1077.9 L1398.2,1081.1 L1400.5,1084.4 L1402.9,1087.7 L1405.2,1090.9 L1407.5,1094.2 L1409.9,1097.5 L1412.2,1100.8 L1414.5,1104.0 L1416.8,1107.3 L1419.1,1110.6 L1421.4,1113.9 L1423.7,1117.2 L1426.0,1120.5 L1428.3,1123.8 L1430.6,1127.1 L1432.9,1130.4 L1435.2,1133.7 L1437.5,1137.0 L1439.8,1140.2 L1442.2,1143.5 L1444.6,1146.7 L1446.9,1149.9 L1449.4,1153.1 L1451.8,1156.2 L1454.3,1159.3 L1456.8,1162.4 L1459.3,1165.5 L1461.9,1168.5 L1464.5,1171.4 L1467.1,1174.4 L1469.8,1177.3 L1472.6,1180.1 L1475.3,1182.9 L1478.2,1185.6 L1481.1,1188.3 L1484.0,1191.0 L1487.0,1193.5 L1490.1,1196.0 L1493.2,1198.5 L1496.4,1200.8 L1499.7,1203.1 L1503.0,1205.4 L1506.4,1207.5 L1509.9,1209.6 L1513.4,1211.7 L1517.0,1213.7 L1520.5,1215.7 L1524.2,1217.6 L1527.8,1219.5 L1531.4,1221.4 L1535.1,1223.3 L1538.7,1225.1 L1542.3,1227.0 L1545.9,1228.8 L1549.5,1230.7 L1553.0,1232.6 L1556.5,1234.6 L1559.9,1236.5 L1563.3,1238.5 L1566.6,1240.5 L1570.0,1242.4 L1573.4,1244.3 L1576.8,1246.1 L1580.2,1247.7 L1583.8,1249.2 L1587.4,1250.5 L1591.2,1251.7 L1595.1,1252.6 L1599.1,1253.2 L1603.3,1253.6 L1607.7,1253.6 L1612.2,1253.4 L1616.6,1252.9 L1620.9,1252.1 L1625.1,1251.1 L1629.0,1250.0 L1632.7,1249.3 L1636.2,1249.6 L1639.4,1251.4 L1642.6,1253.4 L1646.0,1255.4 L1649.4,1257.3 L1652.8,1259.2 L1656.4,1260.9 L1660.0,1262.6 L1663.6,1264.3 L1667.4,1265.9 L1671.1,1267.4 L1674.9,1268.9 L1678.7,1270.3 L1682.5,1271.7 L1686.3,1273.0 L1690.1,1274.3 L1694.0,1275.5 L1697.8,1276.7 L1701.7,1277.8 L1705.5,1278.8 L1709.4,1279.8 L1713.2,1280.7 L1717.1,1281.5 L1721.0,1282.2 L1725.0,1282.8 L1728.9,1283.3 L1732.8,1283.7 L1736.8,1283.9 L1740.8,1284.1 L1744.8,1284.1 L1748.9,1284.2 L1752.9,1284.3 L1756.8,1284.6 L1760.8,1285.1 L1764.7,1285.7 L1768.6,1286.5 L1772.5,1287.5 L1776.3,1288.6 L1780.1,1289.9 L1783.9,1291.3 L1787.6,1292.7 L1791.4,1294.3 L1795.1,1295.8 L1798.8,1297.5 L1802.5,1299.1 L1806.3,1300.8 L1810.0,1302.5 L1813.7,1304.1 L1817.4,1305.7 L1821.1,1307.3 L1824.9,1308.7 L1828.6,1310.1 L1832.4,1311.4 L1836.1,1312.5 L1840.0,1313.5 L1843.8,1314.4 L1847.6,1315.1 L1851.5,1315.5 L1855.5,1315.8 L1859.4,1315.9 L1863.4,1315.7 L1867.5,1315.3 L1871.5,1315.1 L1875.6,1315.1 L1879.7,1315.4 L1883.7,1315.8 L1887.6,1315.7 L1891.3,1314.8 L1894.8,1313.1 L1898.2,1310.9 L1901.5,1308.7 L1905.1,1306.7 L1908.7,1305.2 L1912.5,1304.0 L1916.4,1303.1 L1920.4,1302.5 L1924.4,1302.1 L1928.5,1301.9 L1932.6,1301.8 L1936.8,1301.8 L1940.9,1301.8 L1944.9,1301.8 L1948.9,1301.7 L1952.8,1301.6 L1956.7,1301.2 L1958.5,1301.0" stroke="#ff8000" />
<path d="M134.1,1257.0 L137.8,1258.3 L141.5,1259.5 L145.3,1260.6 L149.1,1261.7 L153.0,1262.8 L156.9,1263.9 L160.8,1265.0 L164.8,1266.0 L168.7,1267.1 L172.6,1268.3 L176.5,1269.5 L180.4,1270.7 L184.2,1272.0 L187.9,1273.4 L191.6,1274.9 L195.2,1276.6 L198.8,1278.3 L202.3,1280.1 L205.7,1281.9 L209.2,1283.9 L212.5,1285.9 L215.9,1287.9 L219.2,1290.0 L222.6,1292.2 L225.9,1294.3 L229.3,1296.5 L232.6,1298.6 L236.0,1300.7 L239.4,1302.9 L242.9,1305.0 L246.4,1307.0 L250.0,1309.0 L253.6,1311.0 L257.3,1312.9 L261.0,1314.6 L264.8,1316.3 L268.6,1317.8 L272.4,1319.1 L276.2,1320.3 L280.0,1321.3 L283.9,1322.0 L287.7,1322.5 L291.5,1322.8 L295.4,1322.8 L299.1,1322.5 L302.9,1321.8 L306.6,1320.9 L310.3,1319.6 L313.9,1318.1 L317.6,1316.3 L321.2,1314.4 L324.7,1312.3 L328.3,1310.2 L331.9,1308.1 L335.5,1306.0 L339.2,1304.0 L342.8,1302.1 L346.5,1300.4 L350.3,1298.9 L354.0,1297.7 L357.9,1296.8 L361.7,1296.2 L365.6,1295.8 L369.6,1295.7 L373.6,1295.6 L377.6,1295.7 L381.6,1295.9 L385.6,1296.1 L389.6,1296.3 L393.6,1296.5 L397.5,1296.6 L401.5,1296.6 L405.4,1296.5 L409.3,1296.2 L413.1,1295.6 L416.9,1294.8 L420.7,1293.7 L424.4,1292.5 L428.0,1291.0 L431.7,1289.4 L435.2,1287.6 L438.8,1285.6 L442.3,1283.5 L445.8,1281.4 L449.2,1279.1 L452.6,1276.8 L456.0,1274.5 L459.3,1272.1 L462.7,1269.7 L466.0,1267.3 L469.3,1264.9 L472.6,1262.5 L475.8,1260.1 L479.1,1257.7 L482.4,1255.4 L485.6,1253.0 L488.9,1250.7 L492.2,1248.5 L495.5,1246.2 L498.8,1244.0 L502.1,1241.8 L505.5,1239.7 L508.8,1237.7 L512.2,1235.6 L515.6,1233.7 L519.1,1231.8 L522.6,1230.0 L526.1,1228.3 L529.7,1226.6 L533.4,1225.0 L537.0,1223.5 L540.7,1222.0 L544.5,1220.6 L548.2,1219.2 L552.0,1217.8 L555.7,1216.4 L559.5,1215.0 L563.2,1213.5 L566.9,1212.0 L570.6,1210.5 L574.3,1208.9 L577.9,1207.2 L581.5,1205.4 L585.0,1203.4 L588.4,1201.4 L591.8,1199.3 L595.2,1197.1 L598.5,1194.9 L601.8,1192.5 L605.0,1190.0 L608.1,1187.5 L611.2,1185.0 L614.2,1182.3 L617.2,1179.6 L620.1,1176.8 L623.0,1174.0 L625.9,1171.2 L628.6,1168.3 L631.4,1165.4 L634.1,1162.4 L636.7,1159.4 L639.3,1156.4 L641.8,1153.3 L644.4,1150.2 L646.8,1147.1 L649.3,1143.9 L651.7,1140.8 L654.1,1137.6 L656.5,1134.4 L658.8,1131.1 L661.1,1127.9 L663.4,1124.6 L665.7,1121.3 L668.0,1118.1 L670.2,1114.8 L672.5,1111.5 L674.7,1108.1 L677.0,1104.8 L679.2,1101.5 L681.4,1098.2 L683.7,1094.9 L685.9,1091.6 L688.1,1088.3 L690.4,1085.0 L692.7,1081.7 L695.0,1078.4 L697.3,1075.1 L699.6,1071.8 L701.9,1068.6 L704.3,1065.4 L706.6,1062.1 L709.0,1058.9 L711.4,1055.7 L713.9,1052.6 L716.3,1049.4 L718.8,1046.2 L721.2,1043.1 L723.7,1039.9 L726.2,1036.8 L728.7,1033.7 L731.2,1030.6 L733.7,1027.4 L736.3,1024.3 L738.8,1021.2 L741.3,1018.1 L743.9,1015.0 L746.4,1011.9 L748.9,1008.8 L751.5,1005.8 L754.0,1002.7 L756.6,999.6 L759.1,996.5 L761.6,993.4 L764.2,990.3 L766.7,987.2 L769.2,984.1 L771.7,981.0 L774.2,977.9 L776.7,974.8 L779.2,971.7 L781.8,968.6 L784.3,965.5 L786.8,962.4 L789.4,959.4 L792.0,956.3 L794.6,953.3 L797.3,950.4 L800.1,947.5 L802.8,944.6 L805.7,941.8 L808.5,939.0 L811.5,936.2 L814.4,933.5 L817.4,930.8 L820.4,928.2 L823.4,925.5 L826.4,922.8 L829.4,920.1 L832.4,917.4 L835.3,914.7 L838.2,911.9 L841.0,909.1 L843.8,906.2 L846.4,903.3 L849.0,900.3 L851.5,897.2 L853.9,894.1 L856.2,890.8 L858.4,887.5 L860.5,884.2 L862.6,880.7 L864.5,877.3 L866.4,873.7 L868.3,870.2 L870.0,866.6 L871.8,862.9 L873.5,859.3 L875.1,855.6 L876.7,851.9 L878.3,848.2 L879.9,844.5 L881.4,840.8 L883.0,837.0 L884.5,833.3 L886.0,829.6 L887.5,825.9 L888.9,822.1 L890.4,818.4 L891.8,814.6 L893.2,810.9 L894.6,807.1 L896.0,803.4 L897.3,799.6 L898.7,795.9 L900.0,792.1 L901.3,788.3 L902.6,784.6 L903.9,780.8 L905.2,777.0 L906.4,773.2 L907.7,769.4 L908.9,765.6 L910.1,761.8 L911.3,758.0 L912.5,754.2 L913.7,750.4 L914.9,746.6 L916.1,742.8 L917.2,739.0 L918.4,735.2 L919.5,731.3 L920.6,727.5 L921.7,723.7 L922.9,719.8 L924.0,716.0 L925.1,712.2 L926.1,708.3 L927.2,704.5 L928.3,700.6 L929.4,696.7 L930.4,692.9 L931.5,689.0 L932.5,685.2 L933.6,681.3 L934.6,677.4 L935.7,673.6 L936.7,669.7 L937.7,665.8 L938.8,661.9 L939.8,658.1 L940.8,654.2 L941.8,650.3 L942.9,646.4 L943.9,642.6 L944.9,638.7 L945.9,634.8 L946.9,630.9 L947.9,627.0 L948.9,623.2 L950.0,619.3 L951.0,615.4 L952.0,611.5 L953.0,607.7 L954.0,603.8 L955.1,599.9 L956.1,596.0 L957.1,592.2 L958.1,588.3 L959.2,584.4 L960.2,580.6 L961.3,576.7 L962.3,572.8 L963.4,569.0 L964.4,565.1 L965.5,561.3 L966.5,557.4 L967.6,553.6 L968.7,549.7 L969.8,545.9 L970.9,542.0 L972.0,538.2 L973.1,534.4 L974.2,530.5 L975.3,526.7 L976.5,522.9 L977.6,519.1 L978.8,515.3 L979.9,511.5 L981.1,507.7 L982.2,503.9 L983.4,500.0 L984.5,496.2 L985.7,492.4 L986.8,488.6 L987.9,484.8 L989.0,480.9 L990.1,477.1 L991.2,473.2 L992.2,469.4 L993.2,465.5 L994.2,461.6 L995.2,457.7 L996.1,453.8 L997.0,449.8 L997.9,445.9 L998.7,442.0 L999.6,438.0 L1000.5,434.0 L1001.3,430.1 L1002.2,426.1 L1003.1,422.2 L1003.9,418.3 L1004.8,414.3 L1005.8,410.4 L1006.7,406.5 L1007.7,402.6 L1008.8,398.7 L1009.8,394.9 L1011.0,391.1 L1012.1,387.2 L1013.4,383.5 L1014.7,379.7 L1016.0,376.0 L1017.5,372.3 L1019.0,368.7 L1020.6,365.1 L1022.2,361.5 L1024.0,358.0 L1025.9,354.5 L1027.8,351.1 L1029.9,347.7 L1032.1,344.4 L1034.4,341.1 L1036.8,337.9 L1039.3,334.7 L1042.0,331.6 L1044.8,328.6 L1047.7,325.7 L1050.8,322.9 L1054.0,320.4 L1057.2,318.3 L1060.6,316.7 L1064.1,315.6 L1067.7,315.2 L1071.4,315.5 L1075.1,316.6 L1078.8,318.5 L1082.5,321.0 L1085.9,324.1 L1088.9,327.4 L1091.4,330.9 L1093.4,334.4 L1095.1,337.9 L1096.6,341.3 L1098.2,344.7 L1100.0,348.0 L1102.3,351.1 L1104.9,354.2 L1107.6,357.3 L1109.9,360.6 L1111.8,364.1 L1113.2,367.9 L1114.5,371.7 L1116.0,375.4 L1117.8,379.0 L1119.5,382.5 L1121.0,386.2 L1122.2,390.0 L1123.4,393.9 L1124.5,397.7 L1125.7,401.5 L1126.9,405.4 L1128.1,409.2 L1129.3,413.0 L1130.6,416.8 L1131.8,420.6 L1133.1,424.4 L1134.3,428.2 L1135.6,432.0 L1136.8,435.8 L1138.0,439.6 L1139.2,443.4 L1140.4,447.3 L1141.6,451.1 L1142.8,454.9 L1144.0,458.7 L1145.1,462.5 L1146.2,466.4 L1147.4,470.2 L1148.5,474.1 L1149.5,477.9 L1150.6,481.8 L1151.7,485.6 L1152.7,489.5 L1153.8,493.3 L1154.8,497.2 L1155.9,501.1 L1156.9,504.9 L1157.9,508.8 L1159.0,512.6 L1160.0,516.5 L1161.0,520.4 L1162.1,524.2 L1163.1,528.1 L1164.2,532.0 L1165.2,535.8 L1166.3,539.7 L1167.4,543.5 L1168.4,547.4 L1169.5,551.2 L1170.6,555.1 L1171.7,558.9 L1172.9,562.8 L1174.0,566.6 L1175.1,570.4 L1176.3,574.3 L1177.4,578.1 L1178.5,581.9 L1179.7,585.8 L1180.9,589.6 L1182.0,593.4 L1183.2,597.3 L1184.4,601.1 L1185.5,604.9 L1186.7,608.7 L1187.9,612.6 L1189.1,616.4 L1190.3,620.2 L1191.5,624.0 L1192.6,627.9 L1193.8,631.7 L1195.0,635.5 L1196.2,639.3 L1197.4,643.1 L1198.6,647.0 L1199.8,650.8 L1201.0,654.6 L1202.1,658.4 L1203.3,662.3 L1204.5,666.1 L1205.7,669.9 L1206.8,673.7 L1208.0,677.5 L1209.2,681.4 L1210.3,685.2 L1211.5,689.0 L1212.6,692.9 L1213.8,696.7 L1214.9,700.5 L1216.0,704.3 L1217.1,708.2 L1218.3,712.0 L1219.4,715.9 L1220.5,719.7 L1221.5,723.5 L1222.6,727.4 L1223.7,731.2 L1224.8,735.1 L1225.8,738.9 L1226.9,742.8 L1227.9,746.6 L1229.0,750.5 L1230.0,754.3 L1231.1,758.2 L1232.1,762.1 L1233.1,765.9 L1234.1,769.8 L1235.2,773.7 L1236.2,777.5 L1237.2,781.4 L1238.2,785.3 L1239.2,789.2 L1240.2,793.1 L1241.2,796.9 L1242.2,800.8 L1243.2,804.7 L1244.2,808.6 L1245.2,812.5 L1246.2,816.4 L1247.3,820.3 L1248.3,824.2 L1249.3,828.1 L1250.4,832.0 L1251.4,835.8 L1252.5,839.7 L1253.6,843.6 L1254.7,847.4 L1255.9,851.3 L1257.0,855.1 L1258.2,858.9 L1259.4,862.7 L1260.7,866.6 L1261.9,870.3 L1263.2,874.1 L1264.5,877.9 L1265.9,881.6 L1267.3,885.4 L1268.7,889.1 L1270.2,892.8 L1271.7,896.5 L1273.2,900.1 L1274.8,903.8 L1276.4,907.4 L1278.1,911.0 L1279.8,914.6 L1281.5,918.2 L1283.2,921.8 L1284.9,925.3 L1286.6,928.9 L1288.3,932.5 L1290.0,936.2 L1291.6,939.8 L1293.2,943.5 L1294.7,947.1 L1296.2,950.9 L1297.7,954.6 L1299.2,958.3 L1300.6,962.1 L1302.0,965.9 L1303.4,969.6 L1304.8,973.4 L1306.1,977.2 L1307.5,981.0 L1308.8,984.8 L1310.2,988.6 L1311.5,992.5 L1312.8,996.3 L1314.2,1000.1 L1315.6,1003.8 L1316.9,1007.6 L1318.3,1011.4 L1319.7,1015.2 L1321.2,1018.9 L1322.6,1022.6 L1324.1,1026.3 L1325.6,1030.0 L1327.2,1033.7 L1328.8,1037.3 L1330.4,1041.0 L1332.1,1044.5 L1333.9,1048.1 L1335.6,1051.6 L1337.5,1055.1 L1339.4,1058.6 L1341.4,1062.0 L1343.4,1065.4 L1345.5,1068.7 L1347.7,1072.0 L1349.9,1075.2 L1352.2,1078.4 L1354.5,1081.6 L1356.9,1084.8 L1359.4,1087.9 L1361.9,1091.0 L1364.4,1094.0 L1367.0,1097.1 L1369.6,1100.1 L1372.3,1103.1 L1374.9,1106.1 L1377.7,1109.0 L1380.4,1112.0 L1383.2,1114.9 L1386.0,1117.8 L1388.7,1120.7 L1391.6,1123.7 L1394.4,1126.6 L1397.2,1129.5 L1400.0,1132.4 L1402.9,1135.3 L1405.7,1138.2 L1408.5,1141.1 L1411.3,1144.0 L1414.1,1147.0 L1416.9,1149.9 L1419.7,1152.9 L1422.4,1155.9 L1425.1,1158.9 L1427.8,1161.9 L1430.5,1165.0 L1433.1,1168.0 L1435.7,1171.1 L1438.2,1174.3 L1440.7,1177.4 L1443.2,1180.6 L1445.7,1183.7 L1448.2,1186.9 L1450.7,1190.0 L1453.1,1193.1 L1455.6,1196.2 L1458.2,1199.2 L1460.8,1202.2 L1463.4,1205.2 L1466.0,1208.0 L1468.8,1210.8 L1471.6,1213.6 L1474.4,1216.2 L1477.4,1218.7 L1480.4,1221.1 L1483.6,1223.4 L1486.9,1225.6 L1490.2,1227.6 L1493.7,1229.6 L1497.2,1231.4 L1500.8,1233.2 L1504.5,1234.9 L1508.2,1236.5 L1512.0,1238.1 L1515.8,1239.6 L1519.6,1241.1 L1523.4,1242.6 L1527.1,1244.0 L1530.9,1245.5 L1534.7,1246.9 L1538.5,1248.3 L1542.3,1249.7 L1546.1,1251.0 L1549.9,1252.4 L1553.6,1253.7 L1557.4,1255.0 L1561.2,1256.3 L1565.0,1257.6 L1568.8,1258.9 L1572.6,1260.1 L1576.4,1261.4 L1580.2,1262.6 L1584.0,1263.8 L1587.8,1265.0 L1591.6,1266.1 L1595.4,1267.3 L1599.2,1268.4 L1603.0,1269.6 L1606.8,1270.7 L1610.7,1271.8 L1614.5,1272.9 L1618.3,1273.9 L1622.2,1275.0 L1626.0,1276.0 L1629.9,1277.0 L1633.7,1278.1 L1637.6,1279.1 L1641.5,1280.0 L1645.4,1281.0 L1649.3,1282.0 L1653.2,1282.9 L1657.1,1283.8 L1661.0,1284.7 L1664.9,1285.6 L1668.8,1286.4 L1672.7,1287.2 L1676.7,1288.0 L1680.6,1288.7 L1684.6,1289.4 L1688.5,1290.0 L1692.4,1290.7 L1696.4,1291.3 L1700.3,1292.0 L1704.3,1292.7 L1708.2,1293.4 L1712.1,1294.2 L1716.0,1295.0 L1719.9,1295.9 L1723.8,1296.8 L1727.7,1297.8 L1731.6,1298.8 L1735.4,1299.9 L1739.2,1301.1 L1743.0,1302.3 L1746.8,1303.6 L1750.6,1305.0 L1754.3,1306.5 L1758.1,1308.0 L1761.7,1309.7 L1765.4,1311.4 L1769.1,1313.1 L1772.7,1314.5 L1776.5,1315.6 L1780.3,1316.1 L1784.2,1316.0 L1788.3,1315.4 L1792.3,1314.6 L1796.3,1313.9 L1800.4,1313.4 L1804.3,1313.2 L1808.3,1313.3 L1812.3,1313.5 L1816.2,1313.9 L1820.1,1314.5 L1824.0,1315.3 L1827.8,1316.1 L1831.7,1317.1 L1835.6,1318.2 L1839.4,1319.3 L1843.3,1320.5 L1847.1,1321.6 L1851.0,1322.8 L1854.8,1324.0 L1858.7,1325.1 L1862.6,1326.1 L1866.5,1327.0 L1870.4,1327.9 L1874.4,1328.6 L1878.4,1329.1 L1882.4,1329.5 L1886.4,1329.8 L1890.4,1329.9 L1894.4,1330.0 L1898.5,1330.1 L1902.5,1330.2 L1906.5,1330.4 L1910.4,1330.7 L1914.4,1331.1 L1918.3,1331.7 L1922.2,1332.5 L1926.0,1333.5 L1929.7,1334.8 L1933.4,1336.5 L1937.0,1338.5 L1940.6,1340.7 L1944.2,1342.6 L1947.9,1344.0 L1951.7,1344.4 L1955.8,1343.4 L1959.0,1341.6" stroke="#008000" />
<path d="M134.0,1279.8 L138.1,1279.0 L142.1,1278.5 L146.1,1278.2 L150.1,1278.1 L154.0,1278.2 L158.0,1278.4 L161.9,1278.9 L165.8,1279.4 L169.7,1280.1 L173.6,1280.9 L177.4,1281.8 L181.3,1282.8 L185.2,1283.8 L189.0,1284.8 L192.9,1285.9 L196.8,1287.0 L200.6,1288.0 L204.5,1289.1 L208.4,1290.1 L212.3,1291.0 L216.2,1291.8 L220.2,1292.6 L224.1,1293.2 L228.1,1293.8 L232.0,1294.2 L236.0,1294.5 L240.0,1294.7 L244.0,1294.9 L248.0,1294.9 L252.0,1294.9 L256.1,1294.8 L260.1,1294.6 L264.1,1294.3 L268.1,1294.0 L272.1,1293.6 L276.1,1293.2 L280.1,1292.7 L284.1,1292.1 L288.1,1291.5 L292.0,1290.9 L296.0,1290.2 L299.9,1289.4 L303.8,1288.7 L307.8,1287.9 L311.7,1287.0 L315.5,1286.2 L319.4,1285.3 L323.3,1284.4 L327.2,1283.4 L331.0,1282.4 L334.9,1281.5 L338.7,1280.4 L342.6,1279.4 L346.4,1278.4 L350.2,1277.3 L354.1,1276.3 L357.9,1275.2 L361.7,1274.1 L365.6,1273.0 L369.4,1271.9 L373.2,1270.8 L377.0,1269.7 L380.9,1268.6 L384.7,1267.6 L388.6,1266.5 L392.4,1265.4 L396.2,1264.3 L400.1,1263.3 L404.0,1262.3 L407.8,1261.2 L411.7,1260.2 L415.6,1259.3 L419.5,1258.3 L423.4,1257.4 L427.3,1256.5 L431.2,1255.6 L435.2,1254.8 L439.1,1253.9 L443.1,1253.2 L447.1,1252.4 L451.0,1251.7 L455.0,1250.9 L459.0,1250.2 L463.0,1249.5 L467.0,1248.8 L471.0,1248.1 L475.0,1247.4 L479.0,1246.7 L482.9,1245.9 L486.9,1245.1 L490.8,1244.3 L494.7,1243.4 L498.6,1242.5 L502.5,1241.6 L506.3,1240.5 L510.2,1239.5 L513.9,1238.3 L517.7,1237.1 L521.4,1235.8 L525.1,1234.4 L528.8,1233.0 L532.4,1231.4 L535.9,1229.7 L539.5,1228.0 L543.0,1226.2 L546.4,1224.3 L549.8,1222.3 L553.2,1220.2 L556.6,1218.1 L559.9,1215.9 L563.1,1213.7 L566.4,1211.4 L569.6,1209.0 L572.8,1206.6 L576.0,1204.1 L579.1,1201.6 L582.2,1199.1 L585.3,1196.5 L588.4,1193.9 L591.4,1191.2 L594.5,1188.5 L597.5,1185.8 L600.5,1183.1 L603.4,1180.4 L606.4,1177.6 L609.3,1174.9 L612.2,1172.1 L615.1,1169.3 L618.0,1166.5 L620.9,1163.7 L623.7,1160.9 L626.6,1158.1 L629.4,1155.2 L632.2,1152.4 L635.1,1149.6 L637.9,1146.7 L640.6,1143.8 L643.4,1141.0 L646.2,1138.1 L649.0,1135.2 L651.7,1132.3 L654.5,1129.4 L657.2,1126.5 L660.0,1123.6 L662.7,1120.7 L665.4,1117.8 L668.1,1114.9 L670.9,1111.9 L673.6,1109.0 L676.3,1106.1 L679.0,1103.2 L681.7,1100.2 L684.4,1097.3 L687.1,1094.4 L689.8,1091.4 L692.5,1088.5 L695.2,1085.6 L698.0,1082.6 L700.7,1079.7 L703.4,1076.8 L706.1,1073.8 L708.8,1070.9 L711.6,1068.0 L714.3,1065.0 L717.0,1062.1 L719.7,1059.2 L722.5,1056.2 L725.2,1053.3 L727.9,1050.4 L730.6,1047.4 L733.3,1044.5 L736.0,1041.5 L738.8,1038.6 L741.5,1035.6 L744.2,1032.7 L746.8,1029.7 L749.5,1026.7 L752.2,1023.8 L754.9,1020.8 L757.5,1017.8 L760.2,1014.8 L762.8,1011.8 L765.5,1008.8 L768.1,1005.8 L770.7,1002.7 L773.3,999.7 L775.9,996.7 L778.5,993.6 L781.1,990.5 L783.6,987.5 L786.2,984.4 L788.7,981.3 L791.3,978.2 L793.8,975.2 L796.4,972.1 L798.9,969.0 L801.4,965.9 L803.9,962.8 L806.5,959.7 L809.0,956.6 L811.5,953.5 L814.1,950.4 L816.6,947.3 L819.2,944.3 L821.7,941.2 L824.3,938.1 L826.8,935.1 L829.4,932.0 L832.0,928.9 L834.6,925.9 L837.2,922.9 L839.9,919.9 L842.5,916.9 L845.2,913.9 L847.8,910.9 L850.5,907.9 L853.2,905.0 L856.0,902.0 L858.7,899.1 L861.5,896.2 L864.3,893.4 L867.2,890.5 L870.0,887.7 L872.9,884.8 L875.8,882.1 L878.6,879.3 L881.6,876.6 L884.5,873.9 L887.4,871.3 L890.4,868.7 L893.4,866.1 L896.5,863.6 L899.6,861.1 L902.7,858.7 L905.9,856.3 L909.2,854.0 L912.5,851.6 L915.8,849.4 L919.1,847.1 L922.5,844.9 L925.9,842.6 L929.2,840.3 L932.5,838.0 L935.8,835.7 L939.1,833.4 L942.3,831.0 L945.5,828.5 L948.5,826.0 L951.6,823.4 L954.5,820.7 L957.3,818.0 L960.0,815.1 L962.7,812.1 L965.2,809.1 L967.7,806.0 L970.0,802.8 L972.3,799.6 L974.6,796.2 L976.7,792.9 L978.8,789.5 L980.9,786.0 L982.9,782.5 L984.8,779.0 L986.7,775.4 L988.6,771.9 L990.4,768.3 L992.2,764.7 L994.0,761.0 L995.7,757.4 L997.5,753.8 L999.2,750.2 L1000.8,746.5 L1002.5,742.9 L1004.1,739.2 L1005.7,735.5 L1007.3,731.8 L1008.8,728.2 L1010.4,724.5 L1011.9,720.8 L1013.4,717.1 L1014.8,713.3 L1016.3,709.6 L1017.7,705.9 L1019.1,702.2 L1020.5,698.4 L1021.9,694.7 L1023.3,690.9 L1024.7,687.2 L1026.0,683.4 L1027.3,679.6 L1028.6,675.9 L1029.9,672.1 L1031.2,668.3 L1032.5,664.5 L1033.8,660.7 L1035.0,657.0 L1036.3,653.2 L1037.5,649.4 L1038.7,645.6 L1040.0,641.8 L1041.2,637.9 L1042.4,634.1 L1043.6,630.3 L1044.7,626.5 L1045.9,622.7 L1047.1,618.9 L1048.2,615.0 L1049.4,611.2 L1050.5,607.4 L1051.7,603.5 L1052.8,599.7 L1053.9,595.9 L1055.0,592.0 L1056.1,588.2 L1057.2,584.3 L1058.3,580.5 L1059.4,576.6 L1060.5,572.8 L1061.6,568.9 L1062.7,565.1 L1063.7,561.2 L1064.8,557.4 L1065.9,553.5 L1066.9,549.6 L1068.0,545.8 L1069.0,541.9 L1070.1,538.1 L1071.1,534.2 L1072.2,530.3 L1073.2,526.5 L1074.3,522.6 L1075.3,518.7 L1076.3,514.9 L1077.4,511.0 L1078.4,507.1 L1079.5,503.3 L1080.5,499.4 L1081.5,495.5 L1082.6,491.7 L1083.6,487.8 L1084.6,483.9 L1085.7,480.1 L1086.7,476.2 L1087.7,472.3 L1088.8,468.5 L1089.8,464.6 L1090.9,460.7 L1091.9,456.9 L1093.0,453.0 L1094.0,449.2 L1095.1,445.3 L1096.2,441.4 L1097.2,437.6 L1098.3,433.7 L1099.4,429.9 L1100.5,426.1 L1101.7,422.2 L1102.8,418.4 L1104.0,414.6 L1105.1,410.8 L1106.3,407.0 L1107.5,403.1 L1108.8,399.4 L1110.0,395.6 L1111.3,391.8 L1112.6,388.0 L1114.0,384.3 L1115.3,380.5 L1116.7,376.8 L1118.2,373.1 L1119.6,369.3 L1121.1,365.6 L1122.6,361.9 L1124.2,358.3 L1125.8,354.6 L1127.4,350.9 L1129.1,347.3 L1130.8,343.7 L1132.6,340.1 L1134.4,336.5 L1136.2,332.9 L1138.1,329.4 L1140.1,325.8 L1142.1,322.3 L1144.3,318.9 L1146.6,315.7 L1149.1,312.6 L1151.9,309.7 L1155.0,307.1 L1158.4,304.8 L1162.2,302.9 L1166.1,301.4 L1170.2,300.5 L1174.1,300.2 L1177.9,300.7 L1181.5,301.8 L1184.9,303.4 L1188.1,305.5 L1191.2,307.9 L1194.2,310.7 L1196.9,313.8 L1199.6,317.0 L1202.1,320.3 L1204.4,323.6 L1206.7,327.0 L1208.8,330.4 L1210.8,333.9 L1212.8,337.4 L1214.7,340.9 L1216.5,344.4 L1218.3,347.9 L1220.1,351.5 L1221.8,355.0 L1223.6,358.6 L1225.3,362.2 L1227.0,365.8 L1228.7,369.4 L1230.5,373.0 L1232.1,376.6 L1233.8,380.2 L1235.4,383.9 L1237.0,387.6 L1238.5,391.3 L1240.0,395.0 L1241.5,398.7 L1242.8,402.5 L1244.2,406.3 L1245.4,410.1 L1246.6,413.9 L1247.8,417.7 L1248.9,421.6 L1250.0,425.4 L1251.1,429.3 L1252.2,433.2 L1253.3,437.0 L1254.4,440.8 L1255.6,444.7 L1256.8,448.5 L1258.1,452.2 L1259.4,456.0 L1260.8,459.7 L1262.3,463.5 L1263.9,467.1 L1265.5,470.8 L1267.1,474.5 L1268.7,478.2 L1270.3,481.9 L1271.8,485.6 L1273.2,489.3 L1274.6,493.0 L1275.8,496.8 L1277.0,500.6 L1278.2,504.4 L1279.3,508.3 L1280.4,512.1 L1281.5,515.9 L1282.6,519.8 L1283.7,523.6 L1284.8,527.5 L1286.0,531.3 L1287.2,535.1 L1288.4,539.0 L1289.6,542.8 L1290.8,546.7 L1292.0,550.5 L1293.2,554.3 L1294.4,558.2 L1295.6,562.0 L1296.7,565.8 L1297.9,569.6 L1299.1,573.5 L1300.3,577.3 L1301.4,581.1 L1302.6,585.0 L1303.7,588.8 L1304.9,592.6 L1306.0,596.5 L1307.1,600.3 L1308.3,604.1 L1309.4,607.9 L1310.5,611.8 L1311.6,615.6 L1312.8,619.4 L1313.9,623.3 L1315.0,627.1 L1316.1,630.9 L1317.2,634.8 L1318.3,638.6 L1319.4,642.4 L1320.5,646.2 L1321.6,650.1 L1322.7,653.9 L1323.8,657.7 L1324.9,661.6 L1326.0,665.4 L1327.2,669.3 L1328.3,673.1 L1329.4,676.9 L1330.5,680.8 L1331.6,684.6 L1332.7,688.5 L1333.8,692.3 L1335.0,696.1 L1336.1,700.0 L1337.2,703.8 L1338.4,707.7 L1339.5,711.5 L1340.6,715.3 L1341.8,719.2 L1342.9,723.0 L1344.1,726.9 L1345.2,730.7 L1346.4,734.5 L1347.6,738.4 L1348.8,742.2 L1350.0,746.0 L1351.1,749.9 L1352.3,753.7 L1353.5,757.5 L1354.8,761.3 L1356.0,765.1 L1357.2,769.0 L1358.4,772.8 L1359.7,776.6 L1360.9,780.4 L1362.2,784.2 L1363.5,788.0 L1364.7,791.8 L1366.0,795.6 L1367.3,799.4 L1368.6,803.2 L1370.0,807.0 L1371.3,810.7 L1372.6,814.5 L1374.0,818.3 L1375.3,822.0 L1376.7,825.8 L1378.1,829.6 L1379.5,833.3 L1380.9,837.0 L1382.3,840.8 L1383.7,844.5 L1385.2,848.2 L1386.6,852.0 L1388.1,855.7 L1389.6,859.4 L1391.1,863.1 L1392.6,866.8 L1394.1,870.4 L1395.7,874.1 L1397.2,877.8 L1398.8,881.5 L1400.4,885.1 L1402.0,888.8 L1403.6,892.4 L1405.2,896.0 L1406.9,899.7 L1408.6,903.3 L1410.2,906.9 L1411.9,910.5 L1413.6,914.1 L1415.4,917.7 L1417.1,921.2 L1418.9,924.8 L1420.7,928.4 L1422.5,931.9 L1424.3,935.5 L1426.1,939.0 L1427.9,942.5 L1429.8,946.0 L1431.7,949.6 L1433.6,953.1 L1435.5,956.5 L1437.4,960.0 L1439.4,963.5 L1441.3,967.0 L1443.3,970.4 L1445.3,973.9 L1447.4,977.3 L1449.4,980.7 L1451.5,984.2 L1453.5,987.6 L1455.6,991.0 L1457.7,994.4 L1459.9,997.7 L1462.0,1001.1 L1464.2,1004.5 L1466.4,1007.8 L1468.6,1011.2 L1470.8,1014.5 L1473.1,1017.8 L1475.3,1021.2 L1477.6,1024.5 L1479.9,1027.8 L1482.2,1031.0 L1484.6,1034.3 L1486.9,1037.6 L1489.3,1040.9 L1491.7,1044.1 L1494.2,1047.3 L1496.6,1050.6 L1499.1,1053.8 L1501.6,1057.0 L1504.1,1060.2 L1506.6,1063.3 L1509.1,1066.5 L1511.7,1069.6 L1514.3,1072.7 L1517.0,1075.8 L1519.6,1078.8 L1522.3,1081.8 L1525.0,1084.8 L1527.8,1087.8 L1530.5,1090.7 L1533.3,1093.6 L1536.2,1096.5 L1539.0,1099.3 L1541.9,1102.0 L1544.9,1104.8 L1547.8,1107.4 L1550.8,1110.1 L1553.8,1112.7 L1556.9,1115.2 L1560.0,1117.7 L1563.1,1120.1 L1566.3,1122.5 L1569.5,1124.8 L1572.8,1127.1 L1576.1,1129.3 L1579.4,1131.4 L1582.8,1133.5 L1586.2,1135.5 L1589.6,1137.5 L1593.1,1139.4 L1596.6,1141.2 L1600.1,1143.1 L1603.7,1144.9 L1607.2,1146.7 L1610.8,1148.5 L1614.4,1150.2 L1618.0,1152.0 L1621.5,1153.8 L1625.1,1155.6 L1628.7,1157.4 L1632.2,1159.2 L1635.8,1161.1 L1639.3,1163.1 L1642.7,1165.0 L1646.2,1167.1 L1649.6,1169.2 L1653.0,1171.3 L1656.3,1173.6 L1659.6,1175.9 L1662.9,1178.2 L1666.1,1180.6 L1669.4,1183.0 L1672.6,1185.4 L1675.9,1187.7 L1679.2,1190.1 L1682.5,1192.3 L1685.9,1194.5 L1689.2,1196.7 L1692.7,1198.7 L1696.1,1200.7 L1699.6,1202.7 L1703.1,1204.6 L1706.6,1206.4 L1710.2,1208.2 L1713.8,1209.9 L1717.4,1211.5 L1721.1,1213.1 L1724.7,1214.7 L1728.4,1216.2 L1732.1,1217.6 L1735.9,1219.0 L1739.6,1220.3 L1743.4,1221.6 L1747.2,1222.9 L1751.0,1224.1 L1754.8,1225.2 L1758.7,1226.3 L1762.5,1227.4 L1766.4,1228.4 L1770.3,1229.4 L1774.2,1230.3 L1778.1,1231.2 L1782.0,1232.1 L1785.9,1232.9 L1789.8,1233.7 L1793.7,1234.5 L1797.7,1235.2 L1801.6,1235.9 L1805.5,1236.5 L1809.5,1237.1 L1813.4,1237.7 L1817.4,1238.3 L1821.3,1238.9 L1825.3,1239.4 L1829.2,1240.0 L1833.2,1240.5 L1837.2,1241.1 L1841.1,1241.7 L1845.1,1242.2 L1849.1,1242.8 L1853.0,1243.4 L1857.0,1244.1 L1861.0,1244.7 L1864.9,1245.4 L1868.9,1246.2 L1872.8,1246.9 L1876.8,1247.8 L1880.7,1248.6 L1884.6,1249.5 L1888.5,1250.5 L1892.4,1251.5 L1896.2,1252.6 L1900.0,1253.7 L1903.8,1254.8 L1907.6,1256.0 L1911.4,1257.2 L1915.2,1258.3 L1919.0,1259.5 L1922.9,1260.6 L1926.7,1261.6 L1930.6,1262.6 L1934.5,1263.5 L1938.5,1264.3 L1942.5,1265.0 L1946.6,1265.6 L1950.7,1266.1 L1954.9,1266.3 L1958.4,1266.5" stroke="#000000" />
</g>
<g fill="#000" shape-rendering="crispEdges">
<rect x="130" y="47" width="7" height="1357"/>
<rect x="130" y="47" width="1833" height="7"/>
<rect x="1957" y="47" width="6" height="1357"/>
<rect x="130" y="1398" width="1833" height="6"/>
</g>
<g stroke="#000" stroke-width="6.5" stroke-linecap="round" fill="none">
<line x1="299.55" y1="1374.5" x2="299.55" y2="1399" />
<line x1="465.59" y1="1388.5" x2="465.59" y2="1399" />
<line x1="631.64" y1="1374.5" x2="631.64" y2="1399" />
<line x1="797.68" y1="1388.5" x2="797.68" y2="1399" />
<line x1="963.73" y1="1374.5" x2="963.73" y2="1399" />
<line x1="1129.77" y1="1388.5" x2="1129.77" y2="1399" />
<line x1="1295.82" y1="1374.5" x2="1295.82" y2="1399" />
<line x1="1461.86" y1="1388.5" x2="1461.86" y2="1399" />
<line x1="1627.91" y1="1374.5" x2="1627.91" y2="1399" />
<line x1="1793.95" y1="1388.5" x2="1793.95" y2="1399" />
<line x1="1960.00" y1="1374.5" x2="1960.00" y2="1399" />
</g>
<g font-size="68.6">
<text transform="translate(299.55,1482) scale(0.986,1.0)" text-anchor="middle">18</text>
<text transform="translate(631.64,1482) scale(0.986,1.0)" text-anchor="middle">20</text>
<text transform="translate(963.73,1482) scale(0.986,1.0)" text-anchor="middle">22</text>
<text transform="translate(1295.82,1482) scale(0.986,1.0)" text-anchor="middle">24</text>
<text transform="translate(1627.91,1482) scale(0.986,1.0)" text-anchor="middle">26</text>
<text transform="translate(1960.00,1482) scale(0.986,1.0)" text-anchor="middle">28</text>
</g>
<g stroke-width="6.5" stroke-linecap="round">
<line x1="191" y1="130.8" x2="324" y2="130.8" stroke="#ff0000" />
<line x1="191" y1="203.4" x2="324" y2="203.4" stroke="#0000ff" />
<line x1="191" y1="276.2" x2="324" y2="276.2" stroke="#ff8000" />
<line x1="191" y1="349" x2="324" y2="349" stroke="#008000" />
<line x1="191" y1="421.5" x2="324" y2="421.5" stroke="#000000" />
</g>
<g font-size="61">
<text transform="translate(341.3,151) scale(0.982,1.055)">PEGMA/MTZ: 0/100</text>
<text transform="translate(341.3,224) scale(0.982,1.055)">PEGMA/MTZ: 25/75</text>
<text transform="translate(341.3,296.8) scale(0.982,1.055)">PEGMA/MTZ: 50/50</text>
<text transform="translate(341.3,369.8) scale(0.982,1.055)">PEGMA/MTZ: 75/25</text>
<text transform="translate(341.3,441.8) scale(0.982,1.055)">PEGMA/MTZ:100/0</text>
</g>
<text transform="translate(764,1602) scale(0.984,1.037)" font-size="74">Elution time (min)</text>
<text transform="translate(84,1277) rotate(-90) scale(0.984,1.037)" font-size="74">Refraction index intensity (a.u.)</text>
</svg>
</body></html>
